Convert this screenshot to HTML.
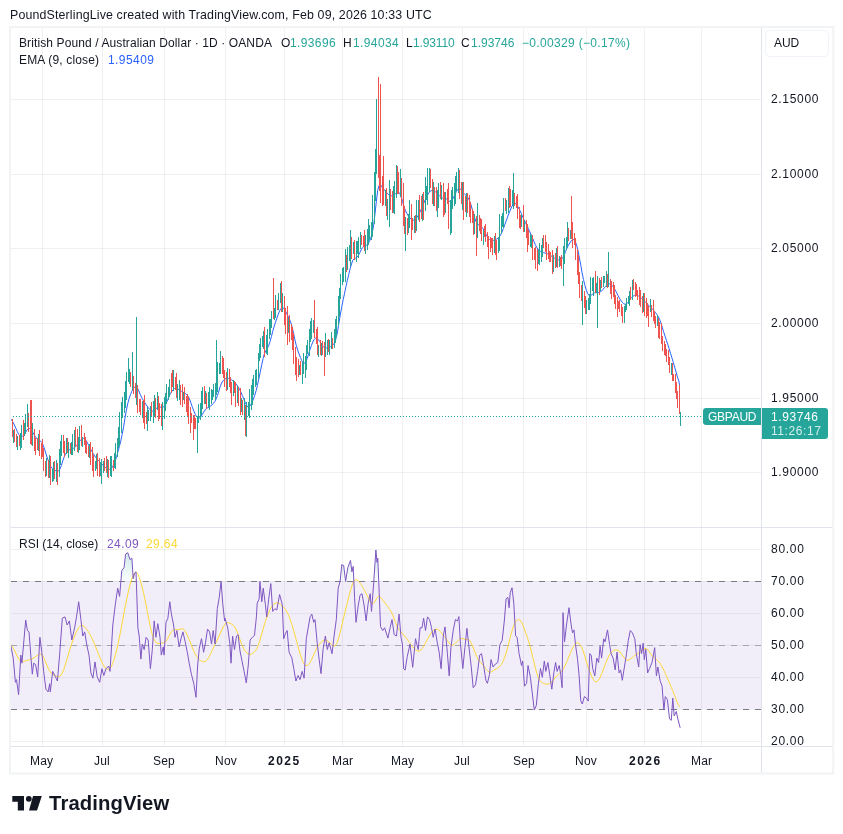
<!DOCTYPE html>
<html><head><meta charset="utf-8"><title>GBPAUD</title>
<style>
html,body{margin:0;padding:0;background:#fff;}
body{width:843px;height:834px;position:relative;overflow:hidden;font-family:"Liberation Sans",sans-serif;color:#131722;font-size:12px;}
svg{position:absolute;left:0;top:0;}
.t{position:absolute;white-space:nowrap;will-change:transform;}
#frame{position:absolute;left:10px;top:27px;width:822px;height:746px;border:1px solid #eceef2;}
#aud{position:absolute;left:765px;top:30px;width:64px;height:27px;border:1px solid #f0f3fa;border-radius:5px;box-sizing:border-box;}
#sym{position:absolute;left:703px;top:408px;width:58px;height:17px;background:#26a69a;border-radius:3px 0 0 3px;}
#px{position:absolute;left:762px;top:408px;width:66px;height:30.5px;background:#26a69a;border-radius:0 3px 3px 0;}
</style></head><body>
<svg width="843" height="834" viewBox="0 0 843 834">
<g shape-rendering="crispEdges"><rect x="42" y="28" width="1" height="718" fill="#2a2e39" fill-opacity="0.07"/><rect x="102" y="28" width="1" height="718" fill="#2a2e39" fill-opacity="0.07"/><rect x="164" y="28" width="1" height="718" fill="#2a2e39" fill-opacity="0.07"/><rect x="225" y="28" width="1" height="718" fill="#2a2e39" fill-opacity="0.07"/><rect x="284" y="28" width="1" height="718" fill="#2a2e39" fill-opacity="0.07"/><rect x="342" y="28" width="1" height="718" fill="#2a2e39" fill-opacity="0.07"/><rect x="402" y="28" width="1" height="718" fill="#2a2e39" fill-opacity="0.07"/><rect x="462" y="28" width="1" height="718" fill="#2a2e39" fill-opacity="0.07"/><rect x="523" y="28" width="1" height="718" fill="#2a2e39" fill-opacity="0.07"/><rect x="586" y="28" width="1" height="718" fill="#2a2e39" fill-opacity="0.07"/><rect x="644" y="28" width="1" height="718" fill="#2a2e39" fill-opacity="0.07"/><rect x="701" y="28" width="1" height="718" fill="#2a2e39" fill-opacity="0.07"/><rect x="11" y="99" width="750" height="1" fill="#2a2e39" fill-opacity="0.07"/><rect x="11" y="174" width="750" height="1" fill="#2a2e39" fill-opacity="0.07"/><rect x="11" y="248" width="750" height="1" fill="#2a2e39" fill-opacity="0.07"/><rect x="11" y="323" width="750" height="1" fill="#2a2e39" fill-opacity="0.07"/><rect x="11" y="398" width="750" height="1" fill="#2a2e39" fill-opacity="0.07"/><rect x="11" y="472" width="750" height="1" fill="#2a2e39" fill-opacity="0.07"/><rect x="11" y="549" width="750" height="1" fill="#2a2e39" fill-opacity="0.07"/><rect x="11" y="581" width="750" height="1" fill="#2a2e39" fill-opacity="0.07"/><rect x="11" y="613" width="750" height="1" fill="#2a2e39" fill-opacity="0.07"/><rect x="11" y="645" width="750" height="1" fill="#2a2e39" fill-opacity="0.07"/><rect x="11" y="677" width="750" height="1" fill="#2a2e39" fill-opacity="0.07"/><rect x="11" y="709" width="750" height="1" fill="#2a2e39" fill-opacity="0.07"/><rect x="11" y="741" width="750" height="1" fill="#2a2e39" fill-opacity="0.07"/></g>
<rect x="11" y="581" width="750" height="128" fill="#7e57c2" fill-opacity="0.1"/>
<defs><linearGradient id="gu" gradientUnits="userSpaceOnUse" x1="0" y1="540" x2="0" y2="581"><stop offset="0" stop-color="#26a69a" stop-opacity="0.32"/><stop offset="1" stop-color="#26a69a" stop-opacity="0.02"/></linearGradient>
<linearGradient id="gd" gradientUnits="userSpaceOnUse" x1="0" y1="709" x2="0" y2="773"><stop offset="0" stop-color="#ef5350" stop-opacity="0"/><stop offset="1" stop-color="#ef5350" stop-opacity="0.3"/></linearGradient></defs>
<path d="M10.5,581 L10.5,581.0 L11.0,581.0 L11.5,581.0 L12.0,581.0 L12.5,581.0 L13.0,581.0 L13.5,581.0 L14.0,581.0 L14.5,581.0 L15.0,581.0 L15.5,581.0 L16.0,581.0 L16.5,581.0 L17.0,581.0 L17.5,581.0 L18.0,581.0 L18.5,581.0 L19.0,581.0 L19.5,581.0 L20.0,581.0 L20.5,581.0 L21.0,581.0 L21.5,581.0 L22.0,581.0 L22.5,581.0 L23.0,581.0 L23.5,581.0 L24.0,581.0 L24.5,581.0 L25.0,581.0 L25.5,581.0 L26.0,581.0 L26.5,581.0 L27.0,581.0 L27.5,581.0 L28.0,581.0 L28.5,581.0 L29.0,581.0 L29.5,581.0 L30.0,581.0 L30.5,581.0 L31.0,581.0 L31.5,581.0 L32.0,581.0 L32.5,581.0 L33.0,581.0 L33.5,581.0 L34.0,581.0 L34.5,581.0 L35.0,581.0 L35.5,581.0 L36.0,581.0 L36.5,581.0 L37.0,581.0 L37.5,581.0 L38.0,581.0 L38.5,581.0 L39.0,581.0 L39.5,581.0 L40.0,581.0 L40.5,581.0 L41.0,581.0 L41.5,581.0 L42.0,581.0 L42.5,581.0 L43.0,581.0 L43.5,581.0 L44.0,581.0 L44.5,581.0 L45.0,581.0 L45.5,581.0 L46.0,581.0 L46.5,581.0 L47.0,581.0 L47.5,581.0 L48.0,581.0 L48.5,581.0 L49.0,581.0 L49.5,581.0 L50.0,581.0 L50.5,581.0 L51.0,581.0 L51.5,581.0 L52.0,581.0 L52.5,581.0 L53.0,581.0 L53.5,581.0 L54.0,581.0 L54.5,581.0 L55.0,581.0 L55.5,581.0 L56.0,581.0 L56.5,581.0 L57.0,581.0 L57.5,581.0 L58.0,581.0 L58.5,581.0 L59.0,581.0 L59.5,581.0 L60.0,581.0 L60.5,581.0 L61.0,581.0 L61.5,581.0 L62.0,581.0 L62.5,581.0 L63.0,581.0 L63.5,581.0 L64.0,581.0 L64.5,581.0 L65.0,581.0 L65.5,581.0 L66.0,581.0 L66.5,581.0 L67.0,581.0 L67.5,581.0 L68.0,581.0 L68.5,581.0 L69.0,581.0 L69.5,581.0 L70.0,581.0 L70.5,581.0 L71.0,581.0 L71.5,581.0 L72.0,581.0 L72.5,581.0 L73.0,581.0 L73.5,581.0 L74.0,581.0 L74.5,581.0 L75.0,581.0 L75.5,581.0 L76.0,581.0 L76.5,581.0 L77.0,581.0 L77.5,581.0 L78.0,581.0 L78.5,581.0 L79.0,581.0 L79.5,581.0 L80.0,581.0 L80.5,581.0 L81.0,581.0 L81.5,581.0 L82.0,581.0 L82.5,581.0 L83.0,581.0 L83.5,581.0 L84.0,581.0 L84.5,581.0 L85.0,581.0 L85.5,581.0 L86.0,581.0 L86.5,581.0 L87.0,581.0 L87.5,581.0 L88.0,581.0 L88.5,581.0 L89.0,581.0 L89.5,581.0 L90.0,581.0 L90.5,581.0 L91.0,581.0 L91.5,581.0 L92.0,581.0 L92.5,581.0 L93.0,581.0 L93.5,581.0 L94.0,581.0 L94.5,581.0 L95.0,581.0 L95.5,581.0 L96.0,581.0 L96.5,581.0 L97.0,581.0 L97.5,581.0 L98.0,581.0 L98.5,581.0 L99.0,581.0 L99.5,581.0 L100.0,581.0 L100.5,581.0 L101.0,581.0 L101.5,581.0 L102.0,581.0 L102.5,581.0 L103.0,581.0 L103.5,581.0 L104.0,581.0 L104.5,581.0 L105.0,581.0 L105.5,581.0 L106.0,581.0 L106.5,581.0 L107.0,581.0 L107.5,581.0 L108.0,581.0 L108.5,581.0 L109.0,581.0 L109.5,581.0 L110.0,581.0 L110.5,581.0 L111.0,581.0 L111.5,581.0 L112.0,581.0 L112.5,581.0 L113.0,581.0 L113.5,581.0 L114.0,581.0 L114.5,581.0 L115.0,581.0 L115.5,581.0 L116.0,581.0 L116.5,581.0 L117.0,581.0 L117.5,581.0 L118.0,581.0 L118.5,581.0 L119.0,581.0 L119.5,581.0 L120.0,581.0 L120.5,581.0 L121.0,580.2 L121.5,574.3 L122.0,570.2 L122.5,569.6 L123.0,569.0 L123.5,568.4 L124.0,567.7 L124.5,563.6 L125.0,559.5 L125.5,555.3 L126.0,553.9 L126.5,553.6 L127.0,553.3 L127.5,552.9 L128.0,553.3 L128.5,554.8 L129.0,556.4 L129.5,558.0 L130.0,559.5 L130.5,559.2 L131.0,558.8 L131.5,558.5 L132.0,559.4 L132.5,566.9 L133.0,574.4 L133.5,577.8 L134.0,575.8 L134.5,573.8 L135.0,572.8 L135.5,572.3 L136.0,571.8 L136.5,581.0 L137.0,581.0 L137.5,581.0 L138.0,581.0 L138.5,581.0 L139.0,581.0 L139.5,581.0 L140.0,581.0 L140.5,581.0 L141.0,581.0 L141.5,581.0 L142.0,581.0 L142.5,581.0 L143.0,581.0 L143.5,581.0 L144.0,581.0 L144.5,581.0 L145.0,581.0 L145.5,581.0 L146.0,581.0 L146.5,581.0 L147.0,581.0 L147.5,581.0 L148.0,581.0 L148.5,581.0 L149.0,581.0 L149.5,581.0 L150.0,581.0 L150.5,581.0 L151.0,581.0 L151.5,581.0 L152.0,581.0 L152.5,581.0 L153.0,581.0 L153.5,581.0 L154.0,581.0 L154.5,581.0 L155.0,581.0 L155.5,581.0 L156.0,581.0 L156.5,581.0 L157.0,581.0 L157.5,581.0 L158.0,581.0 L158.5,581.0 L159.0,581.0 L159.5,581.0 L160.0,581.0 L160.5,581.0 L161.0,581.0 L161.5,581.0 L162.0,581.0 L162.5,581.0 L163.0,581.0 L163.5,581.0 L164.0,581.0 L164.5,581.0 L165.0,581.0 L165.5,581.0 L166.0,581.0 L166.5,581.0 L167.0,581.0 L167.5,581.0 L168.0,581.0 L168.5,581.0 L169.0,581.0 L169.5,581.0 L170.0,581.0 L170.5,581.0 L171.0,581.0 L171.5,581.0 L172.0,581.0 L172.5,581.0 L173.0,581.0 L173.5,581.0 L174.0,581.0 L174.5,581.0 L175.0,581.0 L175.5,581.0 L176.0,581.0 L176.5,581.0 L177.0,581.0 L177.5,581.0 L178.0,581.0 L178.5,581.0 L179.0,581.0 L179.5,581.0 L180.0,581.0 L180.5,581.0 L181.0,581.0 L181.5,581.0 L182.0,581.0 L182.5,581.0 L183.0,581.0 L183.5,581.0 L184.0,581.0 L184.5,581.0 L185.0,581.0 L185.5,581.0 L186.0,581.0 L186.5,581.0 L187.0,581.0 L187.5,581.0 L188.0,581.0 L188.5,581.0 L189.0,581.0 L189.5,581.0 L190.0,581.0 L190.5,581.0 L191.0,581.0 L191.5,581.0 L192.0,581.0 L192.5,581.0 L193.0,581.0 L193.5,581.0 L194.0,581.0 L194.5,581.0 L195.0,581.0 L195.5,581.0 L196.0,581.0 L196.5,581.0 L197.0,581.0 L197.5,581.0 L198.0,581.0 L198.5,581.0 L199.0,581.0 L199.5,581.0 L200.0,581.0 L200.5,581.0 L201.0,581.0 L201.5,581.0 L202.0,581.0 L202.5,581.0 L203.0,581.0 L203.5,581.0 L204.0,581.0 L204.5,581.0 L205.0,581.0 L205.5,581.0 L206.0,581.0 L206.5,581.0 L207.0,581.0 L207.5,581.0 L208.0,581.0 L208.5,581.0 L209.0,581.0 L209.5,581.0 L210.0,581.0 L210.5,581.0 L211.0,581.0 L211.5,581.0 L212.0,581.0 L212.5,581.0 L213.0,581.0 L213.5,581.0 L214.0,581.0 L214.5,581.0 L215.0,581.0 L215.5,581.0 L216.0,581.0 L216.5,581.0 L217.0,581.0 L217.5,581.0 L218.0,581.0 L218.5,581.0 L219.0,581.0 L219.5,581.0 L220.0,581.0 L220.5,581.0 L221.0,581.0 L221.5,581.0 L222.0,581.0 L222.5,581.0 L223.0,581.0 L223.5,581.0 L224.0,581.0 L224.5,581.0 L225.0,581.0 L225.5,581.0 L226.0,581.0 L226.5,581.0 L227.0,581.0 L227.5,581.0 L228.0,581.0 L228.5,581.0 L229.0,581.0 L229.5,581.0 L230.0,581.0 L230.5,581.0 L231.0,581.0 L231.5,581.0 L232.0,581.0 L232.5,581.0 L233.0,581.0 L233.5,581.0 L234.0,581.0 L234.5,581.0 L235.0,581.0 L235.5,581.0 L236.0,581.0 L236.5,581.0 L237.0,581.0 L237.5,581.0 L238.0,581.0 L238.5,581.0 L239.0,581.0 L239.5,581.0 L240.0,581.0 L240.5,581.0 L241.0,581.0 L241.5,581.0 L242.0,581.0 L242.5,581.0 L243.0,581.0 L243.5,581.0 L244.0,581.0 L244.5,581.0 L245.0,581.0 L245.5,581.0 L246.0,581.0 L246.5,581.0 L247.0,581.0 L247.5,581.0 L248.0,581.0 L248.5,581.0 L249.0,581.0 L249.5,581.0 L250.0,581.0 L250.5,581.0 L251.0,581.0 L251.5,581.0 L252.0,581.0 L252.5,581.0 L253.0,581.0 L253.5,581.0 L254.0,581.0 L254.5,581.0 L255.0,581.0 L255.5,581.0 L256.0,581.0 L256.5,581.0 L257.0,581.0 L257.5,581.0 L258.0,581.0 L258.5,581.0 L259.0,581.0 L259.5,581.0 L260.0,581.0 L260.5,581.0 L261.0,581.0 L261.5,581.0 L262.0,581.0 L262.5,581.0 L263.0,581.0 L263.5,581.0 L264.0,581.0 L264.5,581.0 L265.0,581.0 L265.5,581.0 L266.0,581.0 L266.5,581.0 L267.0,581.0 L267.5,581.0 L268.0,581.0 L268.5,581.0 L269.0,581.0 L269.5,581.0 L270.0,581.0 L270.5,581.0 L271.0,581.0 L271.5,581.0 L272.0,581.0 L272.5,581.0 L273.0,581.0 L273.5,581.0 L274.0,581.0 L274.5,581.0 L275.0,581.0 L275.5,581.0 L276.0,581.0 L276.5,581.0 L277.0,581.0 L277.5,581.0 L278.0,581.0 L278.5,581.0 L279.0,581.0 L279.5,581.0 L280.0,581.0 L280.5,581.0 L281.0,581.0 L281.5,581.0 L282.0,581.0 L282.5,581.0 L283.0,581.0 L283.5,581.0 L284.0,581.0 L284.5,581.0 L285.0,581.0 L285.5,581.0 L286.0,581.0 L286.5,581.0 L287.0,581.0 L287.5,581.0 L288.0,581.0 L288.5,581.0 L289.0,581.0 L289.5,581.0 L290.0,581.0 L290.5,581.0 L291.0,581.0 L291.5,581.0 L292.0,581.0 L292.5,581.0 L293.0,581.0 L293.5,581.0 L294.0,581.0 L294.5,581.0 L295.0,581.0 L295.5,581.0 L296.0,581.0 L296.5,581.0 L297.0,581.0 L297.5,581.0 L298.0,581.0 L298.5,581.0 L299.0,581.0 L299.5,581.0 L300.0,581.0 L300.5,581.0 L301.0,581.0 L301.5,581.0 L302.0,581.0 L302.5,581.0 L303.0,581.0 L303.5,581.0 L304.0,581.0 L304.5,581.0 L305.0,581.0 L305.5,581.0 L306.0,581.0 L306.5,581.0 L307.0,581.0 L307.5,581.0 L308.0,581.0 L308.5,581.0 L309.0,581.0 L309.5,581.0 L310.0,581.0 L310.5,581.0 L311.0,581.0 L311.5,581.0 L312.0,581.0 L312.5,581.0 L313.0,581.0 L313.5,581.0 L314.0,581.0 L314.5,581.0 L315.0,581.0 L315.5,581.0 L316.0,581.0 L316.5,581.0 L317.0,581.0 L317.5,581.0 L318.0,581.0 L318.5,581.0 L319.0,581.0 L319.5,581.0 L320.0,581.0 L320.5,581.0 L321.0,581.0 L321.5,581.0 L322.0,581.0 L322.5,581.0 L323.0,581.0 L323.5,581.0 L324.0,581.0 L324.5,581.0 L325.0,581.0 L325.5,581.0 L326.0,581.0 L326.5,581.0 L327.0,581.0 L327.5,581.0 L328.0,581.0 L328.5,581.0 L329.0,581.0 L329.5,581.0 L330.0,581.0 L330.5,581.0 L331.0,581.0 L331.5,581.0 L332.0,581.0 L332.5,581.0 L333.0,581.0 L333.5,581.0 L334.0,581.0 L334.5,581.0 L335.0,581.0 L335.5,581.0 L336.0,581.0 L336.5,581.0 L337.0,581.0 L337.5,581.0 L338.0,581.0 L338.5,581.0 L339.0,581.0 L339.5,581.0 L340.0,581.0 L340.5,578.1 L341.0,573.0 L341.5,567.8 L342.0,564.6 L342.5,564.9 L343.0,565.1 L343.5,565.4 L344.0,567.8 L344.5,571.9 L345.0,576.1 L345.5,580.2 L346.0,579.2 L346.5,576.0 L347.0,572.9 L347.5,569.8 L348.0,567.3 L348.5,565.9 L349.0,564.6 L349.5,563.2 L350.0,561.9 L350.5,560.5 L351.0,564.1 L351.5,568.3 L352.0,571.5 L352.5,569.5 L353.0,567.5 L353.5,571.4 L354.0,581.0 L354.5,581.0 L355.0,581.0 L355.5,581.0 L356.0,581.0 L356.5,581.0 L357.0,581.0 L357.5,581.0 L358.0,581.0 L358.5,581.0 L359.0,581.0 L359.5,581.0 L360.0,581.0 L360.5,581.0 L361.0,581.0 L361.5,581.0 L362.0,581.0 L362.5,581.0 L363.0,581.0 L363.5,581.0 L364.0,581.0 L364.5,581.0 L365.0,581.0 L365.5,581.0 L366.0,581.0 L366.5,581.0 L367.0,581.0 L367.5,581.0 L368.0,581.0 L368.5,581.0 L369.0,581.0 L369.5,581.0 L370.0,581.0 L370.5,581.0 L371.0,581.0 L371.5,581.0 L372.0,581.0 L372.5,581.0 L373.0,581.0 L373.5,581.0 L374.0,579.0 L374.5,571.5 L375.0,564.0 L375.5,556.5 L376.0,550.8 L376.5,556.4 L377.0,562.0 L377.5,559.9 L378.0,562.2 L378.5,574.7 L379.0,581.0 L379.5,581.0 L380.0,581.0 L380.5,581.0 L381.0,581.0 L381.5,581.0 L382.0,581.0 L382.5,581.0 L383.0,581.0 L383.5,581.0 L384.0,581.0 L384.5,581.0 L385.0,581.0 L385.5,581.0 L386.0,581.0 L386.5,581.0 L387.0,581.0 L387.5,581.0 L388.0,581.0 L388.5,581.0 L389.0,581.0 L389.5,581.0 L390.0,581.0 L390.5,581.0 L391.0,581.0 L391.5,581.0 L392.0,581.0 L392.5,581.0 L393.0,581.0 L393.5,581.0 L394.0,581.0 L394.5,581.0 L395.0,581.0 L395.5,581.0 L396.0,581.0 L396.5,581.0 L397.0,581.0 L397.5,581.0 L398.0,581.0 L398.5,581.0 L399.0,581.0 L399.5,581.0 L400.0,581.0 L400.5,581.0 L401.0,581.0 L401.5,581.0 L402.0,581.0 L402.5,581.0 L403.0,581.0 L403.5,581.0 L404.0,581.0 L404.5,581.0 L405.0,581.0 L405.5,581.0 L406.0,581.0 L406.5,581.0 L407.0,581.0 L407.5,581.0 L408.0,581.0 L408.5,581.0 L409.0,581.0 L409.5,581.0 L410.0,581.0 L410.5,581.0 L411.0,581.0 L411.5,581.0 L412.0,581.0 L412.5,581.0 L413.0,581.0 L413.5,581.0 L414.0,581.0 L414.5,581.0 L415.0,581.0 L415.5,581.0 L416.0,581.0 L416.5,581.0 L417.0,581.0 L417.5,581.0 L418.0,581.0 L418.5,581.0 L419.0,581.0 L419.5,581.0 L420.0,581.0 L420.5,581.0 L421.0,581.0 L421.5,581.0 L422.0,581.0 L422.5,581.0 L423.0,581.0 L423.5,581.0 L424.0,581.0 L424.5,581.0 L425.0,581.0 L425.5,581.0 L426.0,581.0 L426.5,581.0 L427.0,581.0 L427.5,581.0 L428.0,581.0 L428.5,581.0 L429.0,581.0 L429.5,581.0 L430.0,581.0 L430.5,581.0 L431.0,581.0 L431.5,581.0 L432.0,581.0 L432.5,581.0 L433.0,581.0 L433.5,581.0 L434.0,581.0 L434.5,581.0 L435.0,581.0 L435.5,581.0 L436.0,581.0 L436.5,581.0 L437.0,581.0 L437.5,581.0 L438.0,581.0 L438.5,581.0 L439.0,581.0 L439.5,581.0 L440.0,581.0 L440.5,581.0 L441.0,581.0 L441.5,581.0 L442.0,581.0 L442.5,581.0 L443.0,581.0 L443.5,581.0 L444.0,581.0 L444.5,581.0 L445.0,581.0 L445.5,581.0 L446.0,581.0 L446.5,581.0 L447.0,581.0 L447.5,581.0 L448.0,581.0 L448.5,581.0 L449.0,581.0 L449.5,581.0 L450.0,581.0 L450.5,581.0 L451.0,581.0 L451.5,581.0 L452.0,581.0 L452.5,581.0 L453.0,581.0 L453.5,581.0 L454.0,581.0 L454.5,581.0 L455.0,581.0 L455.5,581.0 L456.0,581.0 L456.5,581.0 L457.0,581.0 L457.5,581.0 L458.0,581.0 L458.5,581.0 L459.0,581.0 L459.5,581.0 L460.0,581.0 L460.5,581.0 L461.0,581.0 L461.5,581.0 L462.0,581.0 L462.5,581.0 L463.0,581.0 L463.5,581.0 L464.0,581.0 L464.5,581.0 L465.0,581.0 L465.5,581.0 L466.0,581.0 L466.5,581.0 L467.0,581.0 L467.5,581.0 L468.0,581.0 L468.5,581.0 L469.0,581.0 L469.5,581.0 L470.0,581.0 L470.5,581.0 L471.0,581.0 L471.5,581.0 L472.0,581.0 L472.5,581.0 L473.0,581.0 L473.5,581.0 L474.0,581.0 L474.5,581.0 L475.0,581.0 L475.5,581.0 L476.0,581.0 L476.5,581.0 L477.0,581.0 L477.5,581.0 L478.0,581.0 L478.5,581.0 L479.0,581.0 L479.5,581.0 L480.0,581.0 L480.5,581.0 L481.0,581.0 L481.5,581.0 L482.0,581.0 L482.5,581.0 L483.0,581.0 L483.5,581.0 L484.0,581.0 L484.5,581.0 L485.0,581.0 L485.5,581.0 L486.0,581.0 L486.5,581.0 L487.0,581.0 L487.5,581.0 L488.0,581.0 L488.5,581.0 L489.0,581.0 L489.5,581.0 L490.0,581.0 L490.5,581.0 L491.0,581.0 L491.5,581.0 L492.0,581.0 L492.5,581.0 L493.0,581.0 L493.5,581.0 L494.0,581.0 L494.5,581.0 L495.0,581.0 L495.5,581.0 L496.0,581.0 L496.5,581.0 L497.0,581.0 L497.5,581.0 L498.0,581.0 L498.5,581.0 L499.0,581.0 L499.5,581.0 L500.0,581.0 L500.5,581.0 L501.0,581.0 L501.5,581.0 L502.0,581.0 L502.5,581.0 L503.0,581.0 L503.5,581.0 L504.0,581.0 L504.5,581.0 L505.0,581.0 L505.5,581.0 L506.0,581.0 L506.5,581.0 L507.0,581.0 L507.5,581.0 L508.0,581.0 L508.5,581.0 L509.0,581.0 L509.5,581.0 L510.0,581.0 L510.5,581.0 L511.0,581.0 L511.5,581.0 L512.0,581.0 L512.5,581.0 L513.0,581.0 L513.5,581.0 L514.0,581.0 L514.5,581.0 L515.0,581.0 L515.5,581.0 L516.0,581.0 L516.5,581.0 L517.0,581.0 L517.5,581.0 L518.0,581.0 L518.5,581.0 L519.0,581.0 L519.5,581.0 L520.0,581.0 L520.5,581.0 L521.0,581.0 L521.5,581.0 L522.0,581.0 L522.5,581.0 L523.0,581.0 L523.5,581.0 L524.0,581.0 L524.5,581.0 L525.0,581.0 L525.5,581.0 L526.0,581.0 L526.5,581.0 L527.0,581.0 L527.5,581.0 L528.0,581.0 L528.5,581.0 L529.0,581.0 L529.5,581.0 L530.0,581.0 L530.5,581.0 L531.0,581.0 L531.5,581.0 L532.0,581.0 L532.5,581.0 L533.0,581.0 L533.5,581.0 L534.0,581.0 L534.5,581.0 L535.0,581.0 L535.5,581.0 L536.0,581.0 L536.5,581.0 L537.0,581.0 L537.5,581.0 L538.0,581.0 L538.5,581.0 L539.0,581.0 L539.5,581.0 L540.0,581.0 L540.5,581.0 L541.0,581.0 L541.5,581.0 L542.0,581.0 L542.5,581.0 L543.0,581.0 L543.5,581.0 L544.0,581.0 L544.5,581.0 L545.0,581.0 L545.5,581.0 L546.0,581.0 L546.5,581.0 L547.0,581.0 L547.5,581.0 L548.0,581.0 L548.5,581.0 L549.0,581.0 L549.5,581.0 L550.0,581.0 L550.5,581.0 L551.0,581.0 L551.5,581.0 L552.0,581.0 L552.5,581.0 L553.0,581.0 L553.5,581.0 L554.0,581.0 L554.5,581.0 L555.0,581.0 L555.5,581.0 L556.0,581.0 L556.5,581.0 L557.0,581.0 L557.5,581.0 L558.0,581.0 L558.5,581.0 L559.0,581.0 L559.5,581.0 L560.0,581.0 L560.5,581.0 L561.0,581.0 L561.5,581.0 L562.0,581.0 L562.5,581.0 L563.0,581.0 L563.5,581.0 L564.0,581.0 L564.5,581.0 L565.0,581.0 L565.5,581.0 L566.0,581.0 L566.5,581.0 L567.0,581.0 L567.5,581.0 L568.0,581.0 L568.5,581.0 L569.0,581.0 L569.5,581.0 L570.0,581.0 L570.5,581.0 L571.0,581.0 L571.5,581.0 L572.0,581.0 L572.5,581.0 L573.0,581.0 L573.5,581.0 L574.0,581.0 L574.5,581.0 L575.0,581.0 L575.5,581.0 L576.0,581.0 L576.5,581.0 L577.0,581.0 L577.5,581.0 L578.0,581.0 L578.5,581.0 L579.0,581.0 L579.5,581.0 L580.0,581.0 L580.5,581.0 L581.0,581.0 L581.5,581.0 L582.0,581.0 L582.5,581.0 L583.0,581.0 L583.5,581.0 L584.0,581.0 L584.5,581.0 L585.0,581.0 L585.5,581.0 L586.0,581.0 L586.5,581.0 L587.0,581.0 L587.5,581.0 L588.0,581.0 L588.5,581.0 L589.0,581.0 L589.5,581.0 L590.0,581.0 L590.5,581.0 L591.0,581.0 L591.5,581.0 L592.0,581.0 L592.5,581.0 L593.0,581.0 L593.5,581.0 L594.0,581.0 L594.5,581.0 L595.0,581.0 L595.5,581.0 L596.0,581.0 L596.5,581.0 L597.0,581.0 L597.5,581.0 L598.0,581.0 L598.5,581.0 L599.0,581.0 L599.5,581.0 L600.0,581.0 L600.5,581.0 L601.0,581.0 L601.5,581.0 L602.0,581.0 L602.5,581.0 L603.0,581.0 L603.5,581.0 L604.0,581.0 L604.5,581.0 L605.0,581.0 L605.5,581.0 L606.0,581.0 L606.5,581.0 L607.0,581.0 L607.5,581.0 L608.0,581.0 L608.5,581.0 L609.0,581.0 L609.5,581.0 L610.0,581.0 L610.5,581.0 L611.0,581.0 L611.5,581.0 L612.0,581.0 L612.5,581.0 L613.0,581.0 L613.5,581.0 L614.0,581.0 L614.5,581.0 L615.0,581.0 L615.5,581.0 L616.0,581.0 L616.5,581.0 L617.0,581.0 L617.5,581.0 L618.0,581.0 L618.5,581.0 L619.0,581.0 L619.5,581.0 L620.0,581.0 L620.5,581.0 L621.0,581.0 L621.5,581.0 L622.0,581.0 L622.5,581.0 L623.0,581.0 L623.5,581.0 L624.0,581.0 L624.5,581.0 L625.0,581.0 L625.5,581.0 L626.0,581.0 L626.5,581.0 L627.0,581.0 L627.5,581.0 L628.0,581.0 L628.5,581.0 L629.0,581.0 L629.5,581.0 L630.0,581.0 L630.5,581.0 L631.0,581.0 L631.5,581.0 L632.0,581.0 L632.5,581.0 L633.0,581.0 L633.5,581.0 L634.0,581.0 L634.5,581.0 L635.0,581.0 L635.5,581.0 L636.0,581.0 L636.5,581.0 L637.0,581.0 L637.5,581.0 L638.0,581.0 L638.5,581.0 L639.0,581.0 L639.5,581.0 L640.0,581.0 L640.5,581.0 L641.0,581.0 L641.5,581.0 L642.0,581.0 L642.5,581.0 L643.0,581.0 L643.5,581.0 L644.0,581.0 L644.5,581.0 L645.0,581.0 L645.5,581.0 L646.0,581.0 L646.5,581.0 L647.0,581.0 L647.5,581.0 L648.0,581.0 L648.5,581.0 L649.0,581.0 L649.5,581.0 L650.0,581.0 L650.5,581.0 L651.0,581.0 L651.5,581.0 L652.0,581.0 L652.5,581.0 L653.0,581.0 L653.5,581.0 L654.0,581.0 L654.5,581.0 L655.0,581.0 L655.5,581.0 L656.0,581.0 L656.5,581.0 L657.0,581.0 L657.5,581.0 L658.0,581.0 L658.5,581.0 L659.0,581.0 L659.5,581.0 L660.0,581.0 L660.5,581.0 L661.0,581.0 L661.5,581.0 L662.0,581.0 L662.5,581.0 L663.0,581.0 L663.5,581.0 L664.0,581.0 L664.5,581.0 L665.0,581.0 L665.5,581.0 L666.0,581.0 L666.5,581.0 L667.0,581.0 L667.5,581.0 L668.0,581.0 L668.5,581.0 L669.0,581.0 L669.5,581.0 L670.0,581.0 L670.5,581.0 L671.0,581.0 L671.5,581.0 L672.0,581.0 L672.5,581.0 L673.0,581.0 L673.5,581.0 L674.0,581.0 L674.5,581.0 L675.0,581.0 L675.5,581.0 L676.0,581.0 L676.5,581.0 L677.0,581.0 L677.5,581.0 L678.0,581.0 L678.5,581.0 L679.0,581.0 L679.5,581.0 L680.0,581.0 L680.0,581 Z" fill="url(#gu)"/>
<path d="M10.5,709 L10.5,709.0 L11.0,709.0 L11.5,709.0 L12.0,709.0 L12.5,709.0 L13.0,709.0 L13.5,709.0 L14.0,709.0 L14.5,709.0 L15.0,709.0 L15.5,709.0 L16.0,709.0 L16.5,709.0 L17.0,709.0 L17.5,709.0 L18.0,709.0 L18.5,709.0 L19.0,709.0 L19.5,709.0 L20.0,709.0 L20.5,709.0 L21.0,709.0 L21.5,709.0 L22.0,709.0 L22.5,709.0 L23.0,709.0 L23.5,709.0 L24.0,709.0 L24.5,709.0 L25.0,709.0 L25.5,709.0 L26.0,709.0 L26.5,709.0 L27.0,709.0 L27.5,709.0 L28.0,709.0 L28.5,709.0 L29.0,709.0 L29.5,709.0 L30.0,709.0 L30.5,709.0 L31.0,709.0 L31.5,709.0 L32.0,709.0 L32.5,709.0 L33.0,709.0 L33.5,709.0 L34.0,709.0 L34.5,709.0 L35.0,709.0 L35.5,709.0 L36.0,709.0 L36.5,709.0 L37.0,709.0 L37.5,709.0 L38.0,709.0 L38.5,709.0 L39.0,709.0 L39.5,709.0 L40.0,709.0 L40.5,709.0 L41.0,709.0 L41.5,709.0 L42.0,709.0 L42.5,709.0 L43.0,709.0 L43.5,709.0 L44.0,709.0 L44.5,709.0 L45.0,709.0 L45.5,709.0 L46.0,709.0 L46.5,709.0 L47.0,709.0 L47.5,709.0 L48.0,709.0 L48.5,709.0 L49.0,709.0 L49.5,709.0 L50.0,709.0 L50.5,709.0 L51.0,709.0 L51.5,709.0 L52.0,709.0 L52.5,709.0 L53.0,709.0 L53.5,709.0 L54.0,709.0 L54.5,709.0 L55.0,709.0 L55.5,709.0 L56.0,709.0 L56.5,709.0 L57.0,709.0 L57.5,709.0 L58.0,709.0 L58.5,709.0 L59.0,709.0 L59.5,709.0 L60.0,709.0 L60.5,709.0 L61.0,709.0 L61.5,709.0 L62.0,709.0 L62.5,709.0 L63.0,709.0 L63.5,709.0 L64.0,709.0 L64.5,709.0 L65.0,709.0 L65.5,709.0 L66.0,709.0 L66.5,709.0 L67.0,709.0 L67.5,709.0 L68.0,709.0 L68.5,709.0 L69.0,709.0 L69.5,709.0 L70.0,709.0 L70.5,709.0 L71.0,709.0 L71.5,709.0 L72.0,709.0 L72.5,709.0 L73.0,709.0 L73.5,709.0 L74.0,709.0 L74.5,709.0 L75.0,709.0 L75.5,709.0 L76.0,709.0 L76.5,709.0 L77.0,709.0 L77.5,709.0 L78.0,709.0 L78.5,709.0 L79.0,709.0 L79.5,709.0 L80.0,709.0 L80.5,709.0 L81.0,709.0 L81.5,709.0 L82.0,709.0 L82.5,709.0 L83.0,709.0 L83.5,709.0 L84.0,709.0 L84.5,709.0 L85.0,709.0 L85.5,709.0 L86.0,709.0 L86.5,709.0 L87.0,709.0 L87.5,709.0 L88.0,709.0 L88.5,709.0 L89.0,709.0 L89.5,709.0 L90.0,709.0 L90.5,709.0 L91.0,709.0 L91.5,709.0 L92.0,709.0 L92.5,709.0 L93.0,709.0 L93.5,709.0 L94.0,709.0 L94.5,709.0 L95.0,709.0 L95.5,709.0 L96.0,709.0 L96.5,709.0 L97.0,709.0 L97.5,709.0 L98.0,709.0 L98.5,709.0 L99.0,709.0 L99.5,709.0 L100.0,709.0 L100.5,709.0 L101.0,709.0 L101.5,709.0 L102.0,709.0 L102.5,709.0 L103.0,709.0 L103.5,709.0 L104.0,709.0 L104.5,709.0 L105.0,709.0 L105.5,709.0 L106.0,709.0 L106.5,709.0 L107.0,709.0 L107.5,709.0 L108.0,709.0 L108.5,709.0 L109.0,709.0 L109.5,709.0 L110.0,709.0 L110.5,709.0 L111.0,709.0 L111.5,709.0 L112.0,709.0 L112.5,709.0 L113.0,709.0 L113.5,709.0 L114.0,709.0 L114.5,709.0 L115.0,709.0 L115.5,709.0 L116.0,709.0 L116.5,709.0 L117.0,709.0 L117.5,709.0 L118.0,709.0 L118.5,709.0 L119.0,709.0 L119.5,709.0 L120.0,709.0 L120.5,709.0 L121.0,709.0 L121.5,709.0 L122.0,709.0 L122.5,709.0 L123.0,709.0 L123.5,709.0 L124.0,709.0 L124.5,709.0 L125.0,709.0 L125.5,709.0 L126.0,709.0 L126.5,709.0 L127.0,709.0 L127.5,709.0 L128.0,709.0 L128.5,709.0 L129.0,709.0 L129.5,709.0 L130.0,709.0 L130.5,709.0 L131.0,709.0 L131.5,709.0 L132.0,709.0 L132.5,709.0 L133.0,709.0 L133.5,709.0 L134.0,709.0 L134.5,709.0 L135.0,709.0 L135.5,709.0 L136.0,709.0 L136.5,709.0 L137.0,709.0 L137.5,709.0 L138.0,709.0 L138.5,709.0 L139.0,709.0 L139.5,709.0 L140.0,709.0 L140.5,709.0 L141.0,709.0 L141.5,709.0 L142.0,709.0 L142.5,709.0 L143.0,709.0 L143.5,709.0 L144.0,709.0 L144.5,709.0 L145.0,709.0 L145.5,709.0 L146.0,709.0 L146.5,709.0 L147.0,709.0 L147.5,709.0 L148.0,709.0 L148.5,709.0 L149.0,709.0 L149.5,709.0 L150.0,709.0 L150.5,709.0 L151.0,709.0 L151.5,709.0 L152.0,709.0 L152.5,709.0 L153.0,709.0 L153.5,709.0 L154.0,709.0 L154.5,709.0 L155.0,709.0 L155.5,709.0 L156.0,709.0 L156.5,709.0 L157.0,709.0 L157.5,709.0 L158.0,709.0 L158.5,709.0 L159.0,709.0 L159.5,709.0 L160.0,709.0 L160.5,709.0 L161.0,709.0 L161.5,709.0 L162.0,709.0 L162.5,709.0 L163.0,709.0 L163.5,709.0 L164.0,709.0 L164.5,709.0 L165.0,709.0 L165.5,709.0 L166.0,709.0 L166.5,709.0 L167.0,709.0 L167.5,709.0 L168.0,709.0 L168.5,709.0 L169.0,709.0 L169.5,709.0 L170.0,709.0 L170.5,709.0 L171.0,709.0 L171.5,709.0 L172.0,709.0 L172.5,709.0 L173.0,709.0 L173.5,709.0 L174.0,709.0 L174.5,709.0 L175.0,709.0 L175.5,709.0 L176.0,709.0 L176.5,709.0 L177.0,709.0 L177.5,709.0 L178.0,709.0 L178.5,709.0 L179.0,709.0 L179.5,709.0 L180.0,709.0 L180.5,709.0 L181.0,709.0 L181.5,709.0 L182.0,709.0 L182.5,709.0 L183.0,709.0 L183.5,709.0 L184.0,709.0 L184.5,709.0 L185.0,709.0 L185.5,709.0 L186.0,709.0 L186.5,709.0 L187.0,709.0 L187.5,709.0 L188.0,709.0 L188.5,709.0 L189.0,709.0 L189.5,709.0 L190.0,709.0 L190.5,709.0 L191.0,709.0 L191.5,709.0 L192.0,709.0 L192.5,709.0 L193.0,709.0 L193.5,709.0 L194.0,709.0 L194.5,709.0 L195.0,709.0 L195.5,709.0 L196.0,709.0 L196.5,709.0 L197.0,709.0 L197.5,709.0 L198.0,709.0 L198.5,709.0 L199.0,709.0 L199.5,709.0 L200.0,709.0 L200.5,709.0 L201.0,709.0 L201.5,709.0 L202.0,709.0 L202.5,709.0 L203.0,709.0 L203.5,709.0 L204.0,709.0 L204.5,709.0 L205.0,709.0 L205.5,709.0 L206.0,709.0 L206.5,709.0 L207.0,709.0 L207.5,709.0 L208.0,709.0 L208.5,709.0 L209.0,709.0 L209.5,709.0 L210.0,709.0 L210.5,709.0 L211.0,709.0 L211.5,709.0 L212.0,709.0 L212.5,709.0 L213.0,709.0 L213.5,709.0 L214.0,709.0 L214.5,709.0 L215.0,709.0 L215.5,709.0 L216.0,709.0 L216.5,709.0 L217.0,709.0 L217.5,709.0 L218.0,709.0 L218.5,709.0 L219.0,709.0 L219.5,709.0 L220.0,709.0 L220.5,709.0 L221.0,709.0 L221.5,709.0 L222.0,709.0 L222.5,709.0 L223.0,709.0 L223.5,709.0 L224.0,709.0 L224.5,709.0 L225.0,709.0 L225.5,709.0 L226.0,709.0 L226.5,709.0 L227.0,709.0 L227.5,709.0 L228.0,709.0 L228.5,709.0 L229.0,709.0 L229.5,709.0 L230.0,709.0 L230.5,709.0 L231.0,709.0 L231.5,709.0 L232.0,709.0 L232.5,709.0 L233.0,709.0 L233.5,709.0 L234.0,709.0 L234.5,709.0 L235.0,709.0 L235.5,709.0 L236.0,709.0 L236.5,709.0 L237.0,709.0 L237.5,709.0 L238.0,709.0 L238.5,709.0 L239.0,709.0 L239.5,709.0 L240.0,709.0 L240.5,709.0 L241.0,709.0 L241.5,709.0 L242.0,709.0 L242.5,709.0 L243.0,709.0 L243.5,709.0 L244.0,709.0 L244.5,709.0 L245.0,709.0 L245.5,709.0 L246.0,709.0 L246.5,709.0 L247.0,709.0 L247.5,709.0 L248.0,709.0 L248.5,709.0 L249.0,709.0 L249.5,709.0 L250.0,709.0 L250.5,709.0 L251.0,709.0 L251.5,709.0 L252.0,709.0 L252.5,709.0 L253.0,709.0 L253.5,709.0 L254.0,709.0 L254.5,709.0 L255.0,709.0 L255.5,709.0 L256.0,709.0 L256.5,709.0 L257.0,709.0 L257.5,709.0 L258.0,709.0 L258.5,709.0 L259.0,709.0 L259.5,709.0 L260.0,709.0 L260.5,709.0 L261.0,709.0 L261.5,709.0 L262.0,709.0 L262.5,709.0 L263.0,709.0 L263.5,709.0 L264.0,709.0 L264.5,709.0 L265.0,709.0 L265.5,709.0 L266.0,709.0 L266.5,709.0 L267.0,709.0 L267.5,709.0 L268.0,709.0 L268.5,709.0 L269.0,709.0 L269.5,709.0 L270.0,709.0 L270.5,709.0 L271.0,709.0 L271.5,709.0 L272.0,709.0 L272.5,709.0 L273.0,709.0 L273.5,709.0 L274.0,709.0 L274.5,709.0 L275.0,709.0 L275.5,709.0 L276.0,709.0 L276.5,709.0 L277.0,709.0 L277.5,709.0 L278.0,709.0 L278.5,709.0 L279.0,709.0 L279.5,709.0 L280.0,709.0 L280.5,709.0 L281.0,709.0 L281.5,709.0 L282.0,709.0 L282.5,709.0 L283.0,709.0 L283.5,709.0 L284.0,709.0 L284.5,709.0 L285.0,709.0 L285.5,709.0 L286.0,709.0 L286.5,709.0 L287.0,709.0 L287.5,709.0 L288.0,709.0 L288.5,709.0 L289.0,709.0 L289.5,709.0 L290.0,709.0 L290.5,709.0 L291.0,709.0 L291.5,709.0 L292.0,709.0 L292.5,709.0 L293.0,709.0 L293.5,709.0 L294.0,709.0 L294.5,709.0 L295.0,709.0 L295.5,709.0 L296.0,709.0 L296.5,709.0 L297.0,709.0 L297.5,709.0 L298.0,709.0 L298.5,709.0 L299.0,709.0 L299.5,709.0 L300.0,709.0 L300.5,709.0 L301.0,709.0 L301.5,709.0 L302.0,709.0 L302.5,709.0 L303.0,709.0 L303.5,709.0 L304.0,709.0 L304.5,709.0 L305.0,709.0 L305.5,709.0 L306.0,709.0 L306.5,709.0 L307.0,709.0 L307.5,709.0 L308.0,709.0 L308.5,709.0 L309.0,709.0 L309.5,709.0 L310.0,709.0 L310.5,709.0 L311.0,709.0 L311.5,709.0 L312.0,709.0 L312.5,709.0 L313.0,709.0 L313.5,709.0 L314.0,709.0 L314.5,709.0 L315.0,709.0 L315.5,709.0 L316.0,709.0 L316.5,709.0 L317.0,709.0 L317.5,709.0 L318.0,709.0 L318.5,709.0 L319.0,709.0 L319.5,709.0 L320.0,709.0 L320.5,709.0 L321.0,709.0 L321.5,709.0 L322.0,709.0 L322.5,709.0 L323.0,709.0 L323.5,709.0 L324.0,709.0 L324.5,709.0 L325.0,709.0 L325.5,709.0 L326.0,709.0 L326.5,709.0 L327.0,709.0 L327.5,709.0 L328.0,709.0 L328.5,709.0 L329.0,709.0 L329.5,709.0 L330.0,709.0 L330.5,709.0 L331.0,709.0 L331.5,709.0 L332.0,709.0 L332.5,709.0 L333.0,709.0 L333.5,709.0 L334.0,709.0 L334.5,709.0 L335.0,709.0 L335.5,709.0 L336.0,709.0 L336.5,709.0 L337.0,709.0 L337.5,709.0 L338.0,709.0 L338.5,709.0 L339.0,709.0 L339.5,709.0 L340.0,709.0 L340.5,709.0 L341.0,709.0 L341.5,709.0 L342.0,709.0 L342.5,709.0 L343.0,709.0 L343.5,709.0 L344.0,709.0 L344.5,709.0 L345.0,709.0 L345.5,709.0 L346.0,709.0 L346.5,709.0 L347.0,709.0 L347.5,709.0 L348.0,709.0 L348.5,709.0 L349.0,709.0 L349.5,709.0 L350.0,709.0 L350.5,709.0 L351.0,709.0 L351.5,709.0 L352.0,709.0 L352.5,709.0 L353.0,709.0 L353.5,709.0 L354.0,709.0 L354.5,709.0 L355.0,709.0 L355.5,709.0 L356.0,709.0 L356.5,709.0 L357.0,709.0 L357.5,709.0 L358.0,709.0 L358.5,709.0 L359.0,709.0 L359.5,709.0 L360.0,709.0 L360.5,709.0 L361.0,709.0 L361.5,709.0 L362.0,709.0 L362.5,709.0 L363.0,709.0 L363.5,709.0 L364.0,709.0 L364.5,709.0 L365.0,709.0 L365.5,709.0 L366.0,709.0 L366.5,709.0 L367.0,709.0 L367.5,709.0 L368.0,709.0 L368.5,709.0 L369.0,709.0 L369.5,709.0 L370.0,709.0 L370.5,709.0 L371.0,709.0 L371.5,709.0 L372.0,709.0 L372.5,709.0 L373.0,709.0 L373.5,709.0 L374.0,709.0 L374.5,709.0 L375.0,709.0 L375.5,709.0 L376.0,709.0 L376.5,709.0 L377.0,709.0 L377.5,709.0 L378.0,709.0 L378.5,709.0 L379.0,709.0 L379.5,709.0 L380.0,709.0 L380.5,709.0 L381.0,709.0 L381.5,709.0 L382.0,709.0 L382.5,709.0 L383.0,709.0 L383.5,709.0 L384.0,709.0 L384.5,709.0 L385.0,709.0 L385.5,709.0 L386.0,709.0 L386.5,709.0 L387.0,709.0 L387.5,709.0 L388.0,709.0 L388.5,709.0 L389.0,709.0 L389.5,709.0 L390.0,709.0 L390.5,709.0 L391.0,709.0 L391.5,709.0 L392.0,709.0 L392.5,709.0 L393.0,709.0 L393.5,709.0 L394.0,709.0 L394.5,709.0 L395.0,709.0 L395.5,709.0 L396.0,709.0 L396.5,709.0 L397.0,709.0 L397.5,709.0 L398.0,709.0 L398.5,709.0 L399.0,709.0 L399.5,709.0 L400.0,709.0 L400.5,709.0 L401.0,709.0 L401.5,709.0 L402.0,709.0 L402.5,709.0 L403.0,709.0 L403.5,709.0 L404.0,709.0 L404.5,709.0 L405.0,709.0 L405.5,709.0 L406.0,709.0 L406.5,709.0 L407.0,709.0 L407.5,709.0 L408.0,709.0 L408.5,709.0 L409.0,709.0 L409.5,709.0 L410.0,709.0 L410.5,709.0 L411.0,709.0 L411.5,709.0 L412.0,709.0 L412.5,709.0 L413.0,709.0 L413.5,709.0 L414.0,709.0 L414.5,709.0 L415.0,709.0 L415.5,709.0 L416.0,709.0 L416.5,709.0 L417.0,709.0 L417.5,709.0 L418.0,709.0 L418.5,709.0 L419.0,709.0 L419.5,709.0 L420.0,709.0 L420.5,709.0 L421.0,709.0 L421.5,709.0 L422.0,709.0 L422.5,709.0 L423.0,709.0 L423.5,709.0 L424.0,709.0 L424.5,709.0 L425.0,709.0 L425.5,709.0 L426.0,709.0 L426.5,709.0 L427.0,709.0 L427.5,709.0 L428.0,709.0 L428.5,709.0 L429.0,709.0 L429.5,709.0 L430.0,709.0 L430.5,709.0 L431.0,709.0 L431.5,709.0 L432.0,709.0 L432.5,709.0 L433.0,709.0 L433.5,709.0 L434.0,709.0 L434.5,709.0 L435.0,709.0 L435.5,709.0 L436.0,709.0 L436.5,709.0 L437.0,709.0 L437.5,709.0 L438.0,709.0 L438.5,709.0 L439.0,709.0 L439.5,709.0 L440.0,709.0 L440.5,709.0 L441.0,709.0 L441.5,709.0 L442.0,709.0 L442.5,709.0 L443.0,709.0 L443.5,709.0 L444.0,709.0 L444.5,709.0 L445.0,709.0 L445.5,709.0 L446.0,709.0 L446.5,709.0 L447.0,709.0 L447.5,709.0 L448.0,709.0 L448.5,709.0 L449.0,709.0 L449.5,709.0 L450.0,709.0 L450.5,709.0 L451.0,709.0 L451.5,709.0 L452.0,709.0 L452.5,709.0 L453.0,709.0 L453.5,709.0 L454.0,709.0 L454.5,709.0 L455.0,709.0 L455.5,709.0 L456.0,709.0 L456.5,709.0 L457.0,709.0 L457.5,709.0 L458.0,709.0 L458.5,709.0 L459.0,709.0 L459.5,709.0 L460.0,709.0 L460.5,709.0 L461.0,709.0 L461.5,709.0 L462.0,709.0 L462.5,709.0 L463.0,709.0 L463.5,709.0 L464.0,709.0 L464.5,709.0 L465.0,709.0 L465.5,709.0 L466.0,709.0 L466.5,709.0 L467.0,709.0 L467.5,709.0 L468.0,709.0 L468.5,709.0 L469.0,709.0 L469.5,709.0 L470.0,709.0 L470.5,709.0 L471.0,709.0 L471.5,709.0 L472.0,709.0 L472.5,709.0 L473.0,709.0 L473.5,709.0 L474.0,709.0 L474.5,709.0 L475.0,709.0 L475.5,709.0 L476.0,709.0 L476.5,709.0 L477.0,709.0 L477.5,709.0 L478.0,709.0 L478.5,709.0 L479.0,709.0 L479.5,709.0 L480.0,709.0 L480.5,709.0 L481.0,709.0 L481.5,709.0 L482.0,709.0 L482.5,709.0 L483.0,709.0 L483.5,709.0 L484.0,709.0 L484.5,709.0 L485.0,709.0 L485.5,709.0 L486.0,709.0 L486.5,709.0 L487.0,709.0 L487.5,709.0 L488.0,709.0 L488.5,709.0 L489.0,709.0 L489.5,709.0 L490.0,709.0 L490.5,709.0 L491.0,709.0 L491.5,709.0 L492.0,709.0 L492.5,709.0 L493.0,709.0 L493.5,709.0 L494.0,709.0 L494.5,709.0 L495.0,709.0 L495.5,709.0 L496.0,709.0 L496.5,709.0 L497.0,709.0 L497.5,709.0 L498.0,709.0 L498.5,709.0 L499.0,709.0 L499.5,709.0 L500.0,709.0 L500.5,709.0 L501.0,709.0 L501.5,709.0 L502.0,709.0 L502.5,709.0 L503.0,709.0 L503.5,709.0 L504.0,709.0 L504.5,709.0 L505.0,709.0 L505.5,709.0 L506.0,709.0 L506.5,709.0 L507.0,709.0 L507.5,709.0 L508.0,709.0 L508.5,709.0 L509.0,709.0 L509.5,709.0 L510.0,709.0 L510.5,709.0 L511.0,709.0 L511.5,709.0 L512.0,709.0 L512.5,709.0 L513.0,709.0 L513.5,709.0 L514.0,709.0 L514.5,709.0 L515.0,709.0 L515.5,709.0 L516.0,709.0 L516.5,709.0 L517.0,709.0 L517.5,709.0 L518.0,709.0 L518.5,709.0 L519.0,709.0 L519.5,709.0 L520.0,709.0 L520.5,709.0 L521.0,709.0 L521.5,709.0 L522.0,709.0 L522.5,709.0 L523.0,709.0 L523.5,709.0 L524.0,709.0 L524.5,709.0 L525.0,709.0 L525.5,709.0 L526.0,709.0 L526.5,709.0 L527.0,709.0 L527.5,709.0 L528.0,709.0 L528.5,709.0 L529.0,709.0 L529.5,709.0 L530.0,709.0 L530.5,709.0 L531.0,709.0 L531.5,709.0 L532.0,709.0 L532.5,709.0 L533.0,709.0 L533.5,709.0 L534.0,709.0 L534.5,709.6 L535.0,709.0 L535.5,709.0 L536.0,709.0 L536.5,709.0 L537.0,709.0 L537.5,709.0 L538.0,709.0 L538.5,709.0 L539.0,709.0 L539.5,709.0 L540.0,709.0 L540.5,709.0 L541.0,709.0 L541.5,709.0 L542.0,709.0 L542.5,709.0 L543.0,709.0 L543.5,709.0 L544.0,709.0 L544.5,709.0 L545.0,709.0 L545.5,709.0 L546.0,709.0 L546.5,709.0 L547.0,709.0 L547.5,709.0 L548.0,709.0 L548.5,709.0 L549.0,709.0 L549.5,709.0 L550.0,709.0 L550.5,709.0 L551.0,709.0 L551.5,709.0 L552.0,709.0 L552.5,709.0 L553.0,709.0 L553.5,709.0 L554.0,709.0 L554.5,709.0 L555.0,709.0 L555.5,709.0 L556.0,709.0 L556.5,709.0 L557.0,709.0 L557.5,709.0 L558.0,709.0 L558.5,709.0 L559.0,709.0 L559.5,709.0 L560.0,709.0 L560.5,709.0 L561.0,709.0 L561.5,709.0 L562.0,709.0 L562.5,709.0 L563.0,709.0 L563.5,709.0 L564.0,709.0 L564.5,709.0 L565.0,709.0 L565.5,709.0 L566.0,709.0 L566.5,709.0 L567.0,709.0 L567.5,709.0 L568.0,709.0 L568.5,709.0 L569.0,709.0 L569.5,709.0 L570.0,709.0 L570.5,709.0 L571.0,709.0 L571.5,709.0 L572.0,709.0 L572.5,709.0 L573.0,709.0 L573.5,709.0 L574.0,709.0 L574.5,709.0 L575.0,709.0 L575.5,709.0 L576.0,709.0 L576.5,709.0 L577.0,709.0 L577.5,709.0 L578.0,709.0 L578.5,709.0 L579.0,709.0 L579.5,709.0 L580.0,709.0 L580.5,709.0 L581.0,709.0 L581.5,709.0 L582.0,709.0 L582.5,709.0 L583.0,709.0 L583.5,709.0 L584.0,709.0 L584.5,709.0 L585.0,709.0 L585.5,709.0 L586.0,709.0 L586.5,709.0 L587.0,709.0 L587.5,709.0 L588.0,709.0 L588.5,709.0 L589.0,709.0 L589.5,709.0 L590.0,709.0 L590.5,709.0 L591.0,709.0 L591.5,709.0 L592.0,709.0 L592.5,709.0 L593.0,709.0 L593.5,709.0 L594.0,709.0 L594.5,709.0 L595.0,709.0 L595.5,709.0 L596.0,709.0 L596.5,709.0 L597.0,709.0 L597.5,709.0 L598.0,709.0 L598.5,709.0 L599.0,709.0 L599.5,709.0 L600.0,709.0 L600.5,709.0 L601.0,709.0 L601.5,709.0 L602.0,709.0 L602.5,709.0 L603.0,709.0 L603.5,709.0 L604.0,709.0 L604.5,709.0 L605.0,709.0 L605.5,709.0 L606.0,709.0 L606.5,709.0 L607.0,709.0 L607.5,709.0 L608.0,709.0 L608.5,709.0 L609.0,709.0 L609.5,709.0 L610.0,709.0 L610.5,709.0 L611.0,709.0 L611.5,709.0 L612.0,709.0 L612.5,709.0 L613.0,709.0 L613.5,709.0 L614.0,709.0 L614.5,709.0 L615.0,709.0 L615.5,709.0 L616.0,709.0 L616.5,709.0 L617.0,709.0 L617.5,709.0 L618.0,709.0 L618.5,709.0 L619.0,709.0 L619.5,709.0 L620.0,709.0 L620.5,709.0 L621.0,709.0 L621.5,709.0 L622.0,709.0 L622.5,709.0 L623.0,709.0 L623.5,709.0 L624.0,709.0 L624.5,709.0 L625.0,709.0 L625.5,709.0 L626.0,709.0 L626.5,709.0 L627.0,709.0 L627.5,709.0 L628.0,709.0 L628.5,709.0 L629.0,709.0 L629.5,709.0 L630.0,709.0 L630.5,709.0 L631.0,709.0 L631.5,709.0 L632.0,709.0 L632.5,709.0 L633.0,709.0 L633.5,709.0 L634.0,709.0 L634.5,709.0 L635.0,709.0 L635.5,709.0 L636.0,709.0 L636.5,709.0 L637.0,709.0 L637.5,709.0 L638.0,709.0 L638.5,709.0 L639.0,709.0 L639.5,709.0 L640.0,709.0 L640.5,709.0 L641.0,709.0 L641.5,709.0 L642.0,709.0 L642.5,709.0 L643.0,709.0 L643.5,709.0 L644.0,709.0 L644.5,709.0 L645.0,709.0 L645.5,709.0 L646.0,709.0 L646.5,709.0 L647.0,709.0 L647.5,709.0 L648.0,709.0 L648.5,709.0 L649.0,709.0 L649.5,709.0 L650.0,709.0 L650.5,709.0 L651.0,709.0 L651.5,709.0 L652.0,709.0 L652.5,709.0 L653.0,709.0 L653.5,709.0 L654.0,709.0 L654.5,709.0 L655.0,709.0 L655.5,709.0 L656.0,709.0 L656.5,709.0 L657.0,709.0 L657.5,709.0 L658.0,709.0 L658.5,709.0 L659.0,709.0 L659.5,709.0 L660.0,709.0 L660.5,709.0 L661.0,709.0 L661.5,709.0 L662.0,709.0 L662.5,709.0 L663.0,709.0 L663.5,709.0 L664.0,709.1 L664.5,709.0 L665.0,709.0 L665.5,709.0 L666.0,709.0 L666.5,709.0 L667.0,709.0 L667.5,709.0 L668.0,709.0 L668.5,709.2 L669.0,713.9 L669.5,718.5 L670.0,719.3 L670.5,719.7 L671.0,720.1 L671.5,717.6 L672.0,710.1 L672.5,709.0 L673.0,709.0 L673.5,709.0 L674.0,712.5 L674.5,715.4 L675.0,714.4 L675.5,713.3 L676.0,712.2 L676.5,712.2 L677.0,714.7 L677.5,717.2 L678.0,719.5 L678.5,721.3 L679.0,723.2 L679.5,725.1 L680.0,727.0 L680.0,709 Z" fill="url(#gd)"/>
<g stroke="#787b86" stroke-width="1" stroke-dasharray="6 6" shape-rendering="crispEdges">
<line x1="11" y1="581.5" x2="761" y2="581.5"/><line x1="11" y1="709.5" x2="761" y2="709.5"/></g>
<line x1="11" y1="645.5" x2="761" y2="645.5" stroke="#787b86" stroke-opacity="0.6" stroke-width="1" stroke-dasharray="6 6" shape-rendering="crispEdges"/>
<polyline points="10.3,418.6 11.7,420.1 13.1,422.3 14.4,425.0 15.8,428.1 17.2,431.3 18.6,434.2 20.0,436.1 21.3,436.7 22.7,436.2 24.1,434.6 25.5,432.4 26.9,430.1 28.3,428.6 29.6,428.5 31.0,429.8 32.4,431.8 33.8,434.1 35.2,436.3 36.5,438.3 37.9,439.8 39.3,440.6 40.7,441.2 42.1,442.6 43.4,445.7 44.8,449.9 46.2,454.5 47.6,458.9 49.0,462.8 50.4,465.9 51.7,468.0 53.1,469.3 54.5,470.2 55.9,470.8 57.3,471.2 58.6,470.8 60.0,469.0 61.4,465.3 62.8,460.9 64.2,456.9 65.5,454.1 66.9,452.1 68.3,450.6 69.7,449.5 71.1,448.9 72.5,448.6 73.8,448.1 75.2,447.1 76.6,445.5 78.0,443.5 79.4,441.5 80.7,439.8 82.1,438.6 83.5,438.3 84.9,438.9 86.3,440.7 87.6,443.2 89.0,446.0 90.4,448.8 91.8,451.3 93.2,453.5 94.6,455.7 95.9,457.6 97.3,459.3 98.7,460.8 100.1,462.2 101.5,463.6 102.8,465.0 104.2,466.4 105.6,467.7 107.0,468.8 108.4,469.3 109.7,469.3 111.1,468.5 112.5,466.9 113.9,464.2 115.3,460.6 116.7,456.4 118.0,451.7 119.4,446.5 120.8,440.8 122.2,434.3 123.6,426.8 124.9,418.5 126.3,410.6 127.7,403.8 129.1,398.6 130.5,394.6 131.8,391.3 133.2,388.7 134.6,386.9 136.0,386.6 137.4,388.0 138.8,390.9 140.1,394.2 141.5,397.2 142.9,399.7 144.3,402.0 145.7,404.1 147.0,406.0 148.4,407.8 149.8,409.5 151.2,410.7 152.6,411.2 153.9,410.6 155.3,409.3 156.7,407.9 158.1,406.9 159.5,406.8 160.9,407.3 162.2,407.6 163.6,407.1 165.0,405.3 166.4,402.7 167.8,399.5 169.1,396.3 170.5,393.6 171.9,391.2 173.3,389.5 174.7,388.4 176.0,388.3 177.4,388.8 178.8,389.6 180.2,390.4 181.6,391.3 183.0,392.1 184.3,392.9 185.7,393.8 187.1,395.0 188.5,397.0 189.9,400.0 191.2,403.8 192.6,407.8 194.0,411.5 195.4,414.6 196.8,417.0 198.1,418.3 199.5,418.1 200.9,416.7 202.3,414.4 203.7,412.0 205.1,410.0 206.4,408.6 207.8,407.7 209.2,407.0 210.6,406.0 212.0,404.9 213.3,403.5 214.7,401.7 216.1,399.1 217.5,395.3 218.9,390.9 220.2,386.5 221.6,383.1 223.0,380.9 224.4,379.5 225.8,378.6 227.2,378.2 228.5,378.4 229.9,378.9 231.3,379.7 232.7,380.7 234.1,381.8 235.4,383.2 236.8,384.8 238.2,386.8 239.6,389.4 241.0,392.3 242.3,395.5 243.7,398.8 245.1,402.3 246.5,405.2 247.9,406.9 249.3,406.8 250.6,405.1 252.0,402.3 253.4,399.0 254.8,395.1 256.2,390.5 257.5,384.9 258.9,378.6 260.3,371.8 261.7,364.9 263.1,358.5 264.4,353.7 265.8,350.7 267.2,348.5 268.6,345.8 270.0,341.7 271.4,336.7 272.7,331.5 274.1,326.7 275.5,322.2 276.9,318.0 278.3,314.2 279.6,310.8 281.0,308.3 282.4,307.3 283.8,308.3 285.2,310.5 286.5,313.2 287.9,316.0 289.3,318.9 290.7,322.3 292.1,326.9 293.5,332.9 294.8,339.3 296.2,345.2 297.6,349.9 299.0,353.8 300.4,357.3 301.7,360.5 303.1,362.7 304.5,363.2 305.9,361.4 307.3,358.1 308.6,353.8 310.0,349.6 311.4,345.5 312.8,342.0 314.2,339.4 315.6,338.1 316.9,338.3 318.3,339.5 319.7,341.4 321.1,343.7 322.5,345.9 323.8,347.4 325.2,347.9 326.6,347.9 328.0,347.6 329.4,347.2 330.7,346.6 332.1,345.8 333.5,344.5 334.9,342.1 336.3,337.6 337.7,330.7 339.0,322.5 340.4,314.2 341.8,306.6 343.2,299.6 344.6,293.1 345.9,286.8 347.3,280.6 348.7,274.6 350.1,268.8 351.5,263.9 352.8,260.3 354.2,258.6 355.6,258.0 357.0,257.3 358.4,255.4 359.8,252.7 361.1,249.9 362.5,247.7 363.9,246.4 365.3,245.7 366.7,245.1 368.0,243.8 369.4,241.5 370.8,238.1 372.2,233.1 373.6,225.7 374.9,214.7 376.3,201.8 377.7,190.4 379.1,185.3 380.5,184.9 381.9,186.9 383.2,188.6 384.6,190.1 386.0,191.7 387.4,193.4 388.8,194.8 390.1,195.7 391.5,195.8 392.9,195.4 394.3,194.6 395.7,193.7 397.0,192.6 398.4,192.1 399.8,193.3 401.2,196.8 402.6,201.6 404.0,206.5 405.3,210.3 406.7,213.3 408.1,215.5 409.5,217.4 410.9,218.9 412.2,219.9 413.6,220.2 415.0,219.5 416.4,218.1 417.8,216.1 419.1,213.8 420.5,210.9 421.9,207.6 423.3,204.2 424.7,201.0 426.1,198.1 427.4,195.2 428.8,192.9 430.2,191.2 431.6,190.6 433.0,190.6 434.3,191.2 435.7,192.0 437.1,193.3 438.5,194.9 439.9,196.4 441.2,197.5 442.6,198.0 444.0,198.2 445.4,198.4 446.8,199.1 448.2,200.3 449.5,201.3 450.9,201.3 452.3,199.7 453.7,197.1 455.1,194.2 456.4,191.4 457.8,189.3 459.2,188.4 460.6,189.0 462.0,190.9 463.3,192.9 464.7,194.3 466.1,195.4 467.5,196.9 468.9,199.4 470.3,202.7 471.6,207.0 473.0,212.1 474.4,217.1 475.8,221.1 477.2,223.6 478.5,225.0 479.9,225.9 481.3,226.8 482.7,228.2 484.1,230.2 485.4,233.0 486.8,235.9 488.2,238.3 489.6,239.6 491.0,240.2 492.4,240.4 493.7,240.3 495.1,239.8 496.5,239.1 497.9,238.2 499.3,236.9 500.6,234.9 502.0,232.0 503.4,228.5 504.8,224.7 506.2,220.9 507.5,217.1 508.9,213.5 510.3,210.1 511.7,206.9 513.1,204.4 514.5,203.2 515.8,203.7 517.2,205.4 518.6,207.9 520.0,210.7 521.4,213.8 522.7,216.9 524.1,219.9 525.5,222.8 526.9,225.6 528.3,228.4 529.6,231.3 531.0,234.5 532.4,237.8 533.8,241.2 535.2,244.4 536.6,247.2 537.9,249.2 539.3,250.5 540.7,251.4 542.1,252.1 543.5,252.6 544.8,253.0 546.2,253.4 547.6,253.9 549.0,254.5 550.4,255.3 551.7,256.3 553.1,257.3 554.5,258.2 555.9,258.9 557.3,259.5 558.7,259.9 560.0,260.0 561.4,259.4 562.8,257.7 564.2,254.9 565.6,251.5 566.9,248.3 568.3,245.5 569.7,243.0 571.1,241.1 572.5,239.7 573.8,239.6 575.2,241.2 576.6,245.1 578.0,250.7 579.4,257.8 580.8,265.3 582.1,272.8 583.5,279.6 584.9,285.4 586.3,290.2 587.7,293.6 589.0,295.5 590.4,295.6 591.8,294.8 593.2,293.7 594.6,293.0 595.9,292.7 597.3,292.6 598.7,292.5 600.1,292.0 601.5,291.1 602.9,289.6 604.2,287.9 605.6,286.4 607.0,285.1 608.4,284.2 609.8,283.8 611.1,284.3 612.5,285.7 613.9,287.8 615.3,290.2 616.7,292.8 618.0,295.5 619.4,298.1 620.8,300.4 622.2,302.2 623.6,303.6 625.0,304.3 626.3,304.0 627.7,302.6 629.1,300.7 630.5,298.8 631.9,297.3 633.2,296.1 634.6,295.4 636.0,295.1 637.4,295.4 638.8,296.2 640.1,297.2 641.5,298.3 642.9,299.6 644.3,301.0 645.7,302.3 647.1,303.7 648.4,305.1 649.8,306.5 651.2,307.9 652.6,309.3 654.0,310.8 655.3,312.4 656.7,314.2 658.1,316.4 659.5,319.2 660.9,322.9 662.2,327.2 663.6,331.7 665.0,336.1 666.4,340.3 667.8,344.6 669.2,348.8 670.5,353.2 671.9,357.8 673.3,362.4 674.7,367.2 676.1,372.1 677.4,376.9 678.8,380.9 679.6,384.9" fill="none" stroke="#2962ff" stroke-width="1" stroke-linejoin="round"/>
<g shape-rendering="crispEdges"><rect x="10.0" y="418.9" width="1" height="15.3" fill="#26a69a"/><rect x="12.0" y="419.2" width="1" height="18.1" fill="#ef5350"/><rect x="13.0" y="430.0" width="1" height="12.7" fill="#26a69a"/><rect x="14.0" y="429.2" width="1" height="12.8" fill="#ef5350"/><rect x="16.0" y="433.9" width="1" height="13.2" fill="#ef5350"/><rect x="17.0" y="435.7" width="1" height="14.4" fill="#26a69a"/><rect x="19.0" y="435.0" width="1" height="10.7" fill="#ef5350"/><rect x="20.0" y="433.0" width="1" height="17.4" fill="#26a69a"/><rect x="21.0" y="424.5" width="1" height="23.8" fill="#26a69a"/><rect x="23.0" y="420.2" width="1" height="19.7" fill="#ef5350"/><rect x="24.0" y="423.4" width="1" height="12.5" fill="#26a69a"/><rect x="25.0" y="414.1" width="1" height="19.9" fill="#26a69a"/><rect x="27.0" y="404.0" width="1" height="22.9" fill="#26a69a"/><rect x="28.0" y="412.5" width="1" height="19.8" fill="#ef5350"/><rect x="30.0" y="400.0" width="1" height="44.1" fill="#ef5350"/><rect x="31.0" y="400.0" width="1" height="44.7" fill="#ef5350"/><rect x="32.0" y="422.8" width="1" height="22.8" fill="#26a69a"/><rect x="34.0" y="429.2" width="1" height="22.0" fill="#ef5350"/><rect x="35.0" y="437.8" width="1" height="17.1" fill="#ef5350"/><rect x="37.0" y="437.8" width="1" height="12.3" fill="#ef5350"/><rect x="38.0" y="433.7" width="1" height="17.5" fill="#26a69a"/><rect x="39.0" y="430.0" width="1" height="25.9" fill="#ef5350"/><rect x="41.0" y="443.0" width="1" height="15.5" fill="#ef5350"/><rect x="42.0" y="438.9" width="1" height="18.3" fill="#ef5350"/><rect x="43.0" y="447.6" width="1" height="23.5" fill="#ef5350"/><rect x="45.0" y="461.2" width="1" height="15.5" fill="#ef5350"/><rect x="46.0" y="457.6" width="1" height="18.8" fill="#26a69a"/><rect x="48.0" y="459.9" width="1" height="17.8" fill="#ef5350"/><rect x="49.0" y="454.7" width="1" height="23.2" fill="#26a69a"/><rect x="50.0" y="455.8" width="1" height="29.2" fill="#ef5350"/><rect x="52.0" y="468.6" width="1" height="13.7" fill="#26a69a"/><rect x="53.0" y="461.9" width="1" height="18.8" fill="#26a69a"/><rect x="54.0" y="460.7" width="1" height="17.9" fill="#ef5350"/><rect x="56.0" y="459.7" width="1" height="22.0" fill="#26a69a"/><rect x="57.0" y="463.1" width="1" height="21.9" fill="#ef5350"/><rect x="59.0" y="449.1" width="1" height="27.5" fill="#26a69a"/><rect x="60.0" y="440.6" width="1" height="23.9" fill="#26a69a"/><rect x="61.0" y="434.7" width="1" height="21.3" fill="#26a69a"/><rect x="63.0" y="434.5" width="1" height="18.8" fill="#ef5350"/><rect x="64.0" y="441.4" width="1" height="15.8" fill="#ef5350"/><rect x="66.0" y="437.5" width="1" height="16.9" fill="#26a69a"/><rect x="67.0" y="438.1" width="1" height="15.3" fill="#ef5350"/><rect x="68.0" y="441.9" width="1" height="16.5" fill="#26a69a"/><rect x="70.0" y="442.9" width="1" height="10.8" fill="#ef5350"/><rect x="71.0" y="442.1" width="1" height="12.6" fill="#26a69a"/><rect x="72.0" y="434.2" width="1" height="20.5" fill="#26a69a"/><rect x="74.0" y="430.2" width="1" height="21.2" fill="#26a69a"/><rect x="75.0" y="427.0" width="1" height="19.7" fill="#ef5350"/><rect x="77.0" y="429.2" width="1" height="23.0" fill="#ef5350"/><rect x="78.0" y="436.5" width="1" height="16.7" fill="#26a69a"/><rect x="79.0" y="425.9" width="1" height="23.8" fill="#26a69a"/><rect x="81.0" y="425.1" width="1" height="21.3" fill="#ef5350"/><rect x="82.0" y="437.3" width="1" height="9.2" fill="#26a69a"/><rect x="84.0" y="432.8" width="1" height="12.4" fill="#ef5350"/><rect x="85.0" y="437.4" width="1" height="15.6" fill="#ef5350"/><rect x="86.0" y="440.9" width="1" height="13.5" fill="#ef5350"/><rect x="88.0" y="446.4" width="1" height="10.3" fill="#ef5350"/><rect x="89.0" y="443.9" width="1" height="14.2" fill="#26a69a"/><rect x="90.0" y="441.6" width="1" height="23.5" fill="#ef5350"/><rect x="92.0" y="446.7" width="1" height="24.2" fill="#ef5350"/><rect x="93.0" y="455.4" width="1" height="21.9" fill="#ef5350"/><rect x="95.0" y="460.9" width="1" height="9.8" fill="#26a69a"/><rect x="96.0" y="454.1" width="1" height="14.4" fill="#26a69a"/><rect x="97.0" y="452.8" width="1" height="22.7" fill="#ef5350"/><rect x="99.0" y="458.0" width="1" height="19.1" fill="#ef5350"/><rect x="100.0" y="462.1" width="1" height="14.1" fill="#26a69a"/><rect x="101.0" y="459.0" width="1" height="25.0" fill="#26a69a"/><rect x="103.0" y="461.1" width="1" height="11.4" fill="#26a69a"/><rect x="104.0" y="457.5" width="1" height="13.4" fill="#ef5350"/><rect x="106.0" y="456.4" width="1" height="16.2" fill="#ef5350"/><rect x="107.0" y="459.2" width="1" height="17.4" fill="#26a69a"/><rect x="108.0" y="459.5" width="1" height="18.5" fill="#ef5350"/><rect x="110.0" y="455.8" width="1" height="20.1" fill="#26a69a"/><rect x="111.0" y="456.1" width="1" height="21.2" fill="#26a69a"/><rect x="113.0" y="460.0" width="1" height="11.3" fill="#ef5350"/><rect x="114.0" y="452.9" width="1" height="14.6" fill="#26a69a"/><rect x="115.0" y="442.7" width="1" height="26.7" fill="#26a69a"/><rect x="117.0" y="437.9" width="1" height="19.4" fill="#26a69a"/><rect x="118.0" y="427.0" width="1" height="21.2" fill="#26a69a"/><rect x="119.0" y="411.9" width="1" height="33.9" fill="#26a69a"/><rect x="121.0" y="402.3" width="1" height="31.0" fill="#26a69a"/><rect x="122.0" y="396.9" width="1" height="20.8" fill="#26a69a"/><rect x="124.0" y="391.9" width="1" height="21.4" fill="#26a69a"/><rect x="125.0" y="381.3" width="1" height="26.6" fill="#26a69a"/><rect x="126.0" y="371.7" width="1" height="28.7" fill="#26a69a"/><rect x="128.0" y="358.0" width="1" height="24.4" fill="#26a69a"/><rect x="129.0" y="368.5" width="1" height="15.5" fill="#26a69a"/><rect x="130.0" y="372.2" width="1" height="14.3" fill="#ef5350"/><rect x="132.0" y="352.0" width="1" height="37.5" fill="#26a69a"/><rect x="133.0" y="376.4" width="1" height="18.0" fill="#ef5350"/><rect x="135.0" y="383.0" width="1" height="15.3" fill="#ef5350"/><rect x="136.0" y="317.0" width="1" height="87.8" fill="#26a69a"/><rect x="137.0" y="384.7" width="1" height="28.3" fill="#ef5350"/><rect x="139.0" y="398.9" width="1" height="13.4" fill="#ef5350"/><rect x="140.0" y="399.0" width="1" height="15.7" fill="#ef5350"/><rect x="142.0" y="401.4" width="1" height="16.9" fill="#26a69a"/><rect x="143.0" y="400.0" width="1" height="22.8" fill="#ef5350"/><rect x="144.0" y="395.2" width="1" height="33.6" fill="#ef5350"/><rect x="146.0" y="411.9" width="1" height="12.2" fill="#ef5350"/><rect x="147.0" y="406.8" width="1" height="24.1" fill="#26a69a"/><rect x="148.0" y="409.5" width="1" height="11.8" fill="#26a69a"/><rect x="150.0" y="405.5" width="1" height="15.7" fill="#26a69a"/><rect x="151.0" y="402.4" width="1" height="14.6" fill="#ef5350"/><rect x="153.0" y="401.2" width="1" height="21.4" fill="#26a69a"/><rect x="154.0" y="395.4" width="1" height="20.2" fill="#26a69a"/><rect x="155.0" y="398.2" width="1" height="19.7" fill="#ef5350"/><rect x="157.0" y="392.0" width="1" height="17.6" fill="#26a69a"/><rect x="158.0" y="395.5" width="1" height="25.1" fill="#ef5350"/><rect x="159.0" y="402.7" width="1" height="15.8" fill="#ef5350"/><rect x="161.0" y="403.9" width="1" height="22.5" fill="#ef5350"/><rect x="162.0" y="401.7" width="1" height="28.1" fill="#26a69a"/><rect x="164.0" y="396.7" width="1" height="22.2" fill="#26a69a"/><rect x="165.0" y="393.1" width="1" height="17.4" fill="#26a69a"/><rect x="166.0" y="383.7" width="1" height="20.3" fill="#26a69a"/><rect x="168.0" y="387.4" width="1" height="12.1" fill="#26a69a"/><rect x="169.0" y="378.5" width="1" height="18.1" fill="#26a69a"/><rect x="171.0" y="373.0" width="1" height="20.2" fill="#ef5350"/><rect x="172.0" y="370.4" width="1" height="16.3" fill="#ef5350"/><rect x="173.0" y="370.0" width="1" height="20.7" fill="#26a69a"/><rect x="175.0" y="376.5" width="1" height="13.5" fill="#ef5350"/><rect x="176.0" y="373.3" width="1" height="25.0" fill="#ef5350"/><rect x="177.0" y="383.9" width="1" height="16.8" fill="#26a69a"/><rect x="179.0" y="379.8" width="1" height="20.3" fill="#26a69a"/><rect x="180.0" y="385.4" width="1" height="19.3" fill="#ef5350"/><rect x="182.0" y="383.7" width="1" height="23.6" fill="#ef5350"/><rect x="183.0" y="391.5" width="1" height="8.9" fill="#26a69a"/><rect x="184.0" y="387.0" width="1" height="17.1" fill="#ef5350"/><rect x="186.0" y="395.5" width="1" height="16.5" fill="#ef5350"/><rect x="187.0" y="393.9" width="1" height="21.8" fill="#ef5350"/><rect x="188.0" y="397.1" width="1" height="26.5" fill="#ef5350"/><rect x="190.0" y="406.7" width="1" height="25.8" fill="#ef5350"/><rect x="191.0" y="412.5" width="1" height="10.4" fill="#ef5350"/><rect x="193.0" y="415.0" width="1" height="25.4" fill="#ef5350"/><rect x="194.0" y="415.0" width="1" height="13.7" fill="#ef5350"/><rect x="195.0" y="418.1" width="1" height="10.4" fill="#ef5350"/><rect x="197.0" y="416.1" width="1" height="36.9" fill="#26a69a"/><rect x="198.0" y="403.6" width="1" height="19.7" fill="#26a69a"/><rect x="200.0" y="403.0" width="1" height="16.8" fill="#26a69a"/><rect x="201.0" y="391.2" width="1" height="23.4" fill="#26a69a"/><rect x="202.0" y="386.9" width="1" height="22.5" fill="#26a69a"/><rect x="204.0" y="386.3" width="1" height="18.1" fill="#ef5350"/><rect x="205.0" y="391.1" width="1" height="12.4" fill="#26a69a"/><rect x="206.0" y="392.9" width="1" height="16.0" fill="#ef5350"/><rect x="208.0" y="392.2" width="1" height="15.0" fill="#26a69a"/><rect x="209.0" y="387.3" width="1" height="23.0" fill="#26a69a"/><rect x="211.0" y="389.3" width="1" height="14.8" fill="#26a69a"/><rect x="212.0" y="390.1" width="1" height="10.1" fill="#26a69a"/><rect x="213.0" y="383.8" width="1" height="13.4" fill="#26a69a"/><rect x="215.0" y="383.3" width="1" height="16.2" fill="#26a69a"/><rect x="216.0" y="340.0" width="1" height="54.6" fill="#26a69a"/><rect x="217.0" y="362.1" width="1" height="29.6" fill="#26a69a"/><rect x="219.0" y="363.2" width="1" height="11.0" fill="#26a69a"/><rect x="220.0" y="351.3" width="1" height="23.1" fill="#26a69a"/><rect x="222.0" y="356.0" width="1" height="17.6" fill="#ef5350"/><rect x="223.0" y="357.9" width="1" height="20.5" fill="#ef5350"/><rect x="224.0" y="369.5" width="1" height="17.4" fill="#ef5350"/><rect x="226.0" y="372.3" width="1" height="18.8" fill="#ef5350"/><rect x="227.0" y="367.8" width="1" height="22.4" fill="#26a69a"/><rect x="229.0" y="368.5" width="1" height="18.4" fill="#ef5350"/><rect x="230.0" y="376.7" width="1" height="15.8" fill="#ef5350"/><rect x="231.0" y="381.9" width="1" height="22.7" fill="#ef5350"/><rect x="233.0" y="379.8" width="1" height="16.3" fill="#26a69a"/><rect x="234.0" y="381.4" width="1" height="11.3" fill="#ef5350"/><rect x="235.0" y="382.3" width="1" height="24.5" fill="#ef5350"/><rect x="237.0" y="386.2" width="1" height="17.0" fill="#26a69a"/><rect x="238.0" y="386.9" width="1" height="18.9" fill="#ef5350"/><rect x="240.0" y="387.5" width="1" height="27.3" fill="#ef5350"/><rect x="241.0" y="398.3" width="1" height="13.6" fill="#26a69a"/><rect x="242.0" y="400.3" width="1" height="15.0" fill="#ef5350"/><rect x="244.0" y="397.9" width="1" height="22.3" fill="#26a69a"/><rect x="245.0" y="405.4" width="1" height="30.6" fill="#ef5350"/><rect x="246.0" y="401.9" width="1" height="34.8" fill="#26a69a"/><rect x="248.0" y="401.9" width="1" height="14.5" fill="#26a69a"/><rect x="249.0" y="388.9" width="1" height="28.9" fill="#26a69a"/><rect x="251.0" y="385.2" width="1" height="24.6" fill="#26a69a"/><rect x="252.0" y="379.0" width="1" height="25.8" fill="#26a69a"/><rect x="253.0" y="374.6" width="1" height="20.1" fill="#26a69a"/><rect x="255.0" y="370.3" width="1" height="16.5" fill="#26a69a"/><rect x="256.0" y="369.4" width="1" height="15.8" fill="#26a69a"/><rect x="258.0" y="353.2" width="1" height="25.3" fill="#26a69a"/><rect x="259.0" y="344.0" width="1" height="17.1" fill="#26a69a"/><rect x="260.0" y="337.9" width="1" height="19.7" fill="#26a69a"/><rect x="262.0" y="335.5" width="1" height="11.3" fill="#26a69a"/><rect x="263.0" y="331.3" width="1" height="17.8" fill="#26a69a"/><rect x="264.0" y="327.4" width="1" height="29.7" fill="#ef5350"/><rect x="266.0" y="335.4" width="1" height="18.5" fill="#26a69a"/><rect x="267.0" y="328.5" width="1" height="26.3" fill="#26a69a"/><rect x="269.0" y="318.6" width="1" height="20.4" fill="#26a69a"/><rect x="270.0" y="318.7" width="1" height="16.2" fill="#26a69a"/><rect x="271.0" y="310.9" width="1" height="17.1" fill="#26a69a"/><rect x="273.0" y="278.0" width="1" height="41.0" fill="#ef5350"/><rect x="274.0" y="307.8" width="1" height="12.0" fill="#26a69a"/><rect x="275.0" y="295.0" width="1" height="22.5" fill="#26a69a"/><rect x="277.0" y="300.0" width="1" height="9.8" fill="#ef5350"/><rect x="278.0" y="292.9" width="1" height="17.0" fill="#26a69a"/><rect x="280.0" y="283.0" width="1" height="20.0" fill="#26a69a"/><rect x="281.0" y="281.3" width="1" height="30.7" fill="#ef5350"/><rect x="282.0" y="293.1" width="1" height="18.5" fill="#26a69a"/><rect x="284.0" y="296.3" width="1" height="28.3" fill="#ef5350"/><rect x="285.0" y="308.0" width="1" height="25.5" fill="#ef5350"/><rect x="287.0" y="306.3" width="1" height="38.9" fill="#ef5350"/><rect x="288.0" y="318.1" width="1" height="14.8" fill="#26a69a"/><rect x="289.0" y="315.2" width="1" height="26.8" fill="#ef5350"/><rect x="291.0" y="324.3" width="1" height="15.8" fill="#ef5350"/><rect x="292.0" y="326.7" width="1" height="23.4" fill="#ef5350"/><rect x="293.0" y="333.4" width="1" height="30.5" fill="#ef5350"/><rect x="295.0" y="346.6" width="1" height="28.4" fill="#ef5350"/><rect x="296.0" y="357.1" width="1" height="24.0" fill="#ef5350"/><rect x="298.0" y="359.0" width="1" height="17.7" fill="#ef5350"/><rect x="299.0" y="365.3" width="1" height="9.4" fill="#26a69a"/><rect x="300.0" y="361.2" width="1" height="14.1" fill="#ef5350"/><rect x="302.0" y="361.7" width="1" height="22.3" fill="#26a69a"/><rect x="303.0" y="353.3" width="1" height="20.3" fill="#26a69a"/><rect x="305.0" y="356.3" width="1" height="22.0" fill="#26a69a"/><rect x="306.0" y="344.7" width="1" height="25.5" fill="#26a69a"/><rect x="307.0" y="340.2" width="1" height="14.2" fill="#26a69a"/><rect x="309.0" y="329.4" width="1" height="26.1" fill="#26a69a"/><rect x="310.0" y="320.8" width="1" height="21.1" fill="#26a69a"/><rect x="311.0" y="317.5" width="1" height="21.2" fill="#26a69a"/><rect x="313.0" y="320.3" width="1" height="12.7" fill="#26a69a"/><rect x="314.0" y="300.0" width="1" height="37.6" fill="#ef5350"/><rect x="316.0" y="328.8" width="1" height="14.8" fill="#ef5350"/><rect x="317.0" y="327.3" width="1" height="28.1" fill="#ef5350"/><rect x="318.0" y="345.0" width="1" height="12.3" fill="#26a69a"/><rect x="320.0" y="339.5" width="1" height="15.0" fill="#ef5350"/><rect x="321.0" y="342.5" width="1" height="13.9" fill="#26a69a"/><rect x="322.0" y="341.1" width="1" height="14.0" fill="#ef5350"/><rect x="324.0" y="342.0" width="1" height="34.0" fill="#ef5350"/><rect x="325.0" y="333.0" width="1" height="24.0" fill="#26a69a"/><rect x="327.0" y="339.7" width="1" height="15.5" fill="#26a69a"/><rect x="328.0" y="338.5" width="1" height="13.8" fill="#ef5350"/><rect x="329.0" y="340.4" width="1" height="15.0" fill="#26a69a"/><rect x="331.0" y="332.2" width="1" height="16.8" fill="#26a69a"/><rect x="332.0" y="337.7" width="1" height="11.0" fill="#ef5350"/><rect x="334.0" y="328.7" width="1" height="19.6" fill="#26a69a"/><rect x="335.0" y="318.6" width="1" height="24.1" fill="#26a69a"/><rect x="336.0" y="315.5" width="1" height="21.1" fill="#26a69a"/><rect x="338.0" y="296.0" width="1" height="30.4" fill="#26a69a"/><rect x="339.0" y="288.4" width="1" height="28.4" fill="#26a69a"/><rect x="340.0" y="273.5" width="1" height="25.1" fill="#26a69a"/><rect x="342.0" y="268.4" width="1" height="16.4" fill="#26a69a"/><rect x="343.0" y="266.9" width="1" height="14.8" fill="#26a69a"/><rect x="345.0" y="248.5" width="1" height="33.7" fill="#26a69a"/><rect x="346.0" y="255.0" width="1" height="17.1" fill="#ef5350"/><rect x="347.0" y="247.4" width="1" height="22.9" fill="#26a69a"/><rect x="349.0" y="244.6" width="1" height="16.1" fill="#26a69a"/><rect x="350.0" y="230.1" width="1" height="35.8" fill="#26a69a"/><rect x="351.0" y="236.6" width="1" height="22.5" fill="#ef5350"/><rect x="353.0" y="242.0" width="1" height="12.1" fill="#26a69a"/><rect x="354.0" y="240.4" width="1" height="19.4" fill="#ef5350"/><rect x="356.0" y="240.7" width="1" height="20.8" fill="#26a69a"/><rect x="357.0" y="241.3" width="1" height="12.2" fill="#26a69a"/><rect x="358.0" y="237.2" width="1" height="21.1" fill="#26a69a"/><rect x="360.0" y="232.1" width="1" height="16.5" fill="#26a69a"/><rect x="361.0" y="235.4" width="1" height="9.5" fill="#ef5350"/><rect x="363.0" y="236.0" width="1" height="10.8" fill="#ef5350"/><rect x="364.0" y="229.5" width="1" height="21.8" fill="#ef5350"/><rect x="365.0" y="235.3" width="1" height="18.9" fill="#26a69a"/><rect x="367.0" y="229.0" width="1" height="21.0" fill="#26a69a"/><rect x="368.0" y="219.3" width="1" height="25.2" fill="#26a69a"/><rect x="369.0" y="225.3" width="1" height="14.8" fill="#26a69a"/><rect x="371.0" y="222.2" width="1" height="18.1" fill="#26a69a"/><rect x="372.0" y="194.7" width="1" height="42.4" fill="#26a69a"/><rect x="374.0" y="172.3" width="1" height="51.2" fill="#26a69a"/><rect x="375.0" y="149.0" width="1" height="52.4" fill="#26a69a"/><rect x="376.0" y="99.0" width="1" height="74.6" fill="#26a69a"/><rect x="378.0" y="76.9" width="1" height="101.3" fill="#ef5350"/><rect x="379.0" y="155.4" width="1" height="35.4" fill="#ef5350"/><rect x="380.0" y="83.8" width="1" height="119.6" fill="#ef5350"/><rect x="382.0" y="176.2" width="1" height="30.1" fill="#ef5350"/><rect x="383.0" y="156.0" width="1" height="48.9" fill="#ef5350"/><rect x="385.0" y="190.3" width="1" height="15.9" fill="#26a69a"/><rect x="386.0" y="188.1" width="1" height="28.1" fill="#ef5350"/><rect x="387.0" y="199.1" width="1" height="21.0" fill="#26a69a"/><rect x="389.0" y="180.4" width="1" height="46.2" fill="#26a69a"/><rect x="390.0" y="188.7" width="1" height="21.4" fill="#ef5350"/><rect x="392.0" y="191.3" width="1" height="21.9" fill="#ef5350"/><rect x="393.0" y="185.8" width="1" height="27.0" fill="#26a69a"/><rect x="394.0" y="181.1" width="1" height="33.0" fill="#26a69a"/><rect x="396.0" y="164.8" width="1" height="33.6" fill="#26a69a"/><rect x="397.0" y="166.3" width="1" height="27.6" fill="#ef5350"/><rect x="398.0" y="172.3" width="1" height="21.2" fill="#ef5350"/><rect x="400.0" y="169.0" width="1" height="27.6" fill="#26a69a"/><rect x="401.0" y="177.9" width="1" height="28.3" fill="#ef5350"/><rect x="403.0" y="183.3" width="1" height="42.7" fill="#ef5350"/><rect x="404.0" y="205.6" width="1" height="27.9" fill="#ef5350"/><rect x="405.0" y="217.0" width="1" height="33.5" fill="#26a69a"/><rect x="407.0" y="218.1" width="1" height="16.7" fill="#ef5350"/><rect x="408.0" y="214.3" width="1" height="18.5" fill="#26a69a"/><rect x="409.0" y="199.7" width="1" height="28.4" fill="#26a69a"/><rect x="411.0" y="204.3" width="1" height="35.5" fill="#ef5350"/><rect x="412.0" y="218.1" width="1" height="12.3" fill="#ef5350"/><rect x="414.0" y="215.9" width="1" height="17.3" fill="#26a69a"/><rect x="415.0" y="214.8" width="1" height="18.0" fill="#ef5350"/><rect x="416.0" y="199.5" width="1" height="31.2" fill="#26a69a"/><rect x="418.0" y="199.9" width="1" height="19.7" fill="#26a69a"/><rect x="419.0" y="194.5" width="1" height="27.3" fill="#ef5350"/><rect x="421.0" y="195.6" width="1" height="23.3" fill="#ef5350"/><rect x="422.0" y="193.7" width="1" height="27.1" fill="#26a69a"/><rect x="423.0" y="191.7" width="1" height="28.2" fill="#ef5350"/><rect x="425.0" y="177.0" width="1" height="33.7" fill="#26a69a"/><rect x="426.0" y="185.6" width="1" height="14.2" fill="#26a69a"/><rect x="427.0" y="167.8" width="1" height="37.6" fill="#26a69a"/><rect x="429.0" y="168.4" width="1" height="24.0" fill="#26a69a"/><rect x="430.0" y="168.9" width="1" height="19.4" fill="#ef5350"/><rect x="432.0" y="179.4" width="1" height="24.1" fill="#ef5350"/><rect x="433.0" y="181.9" width="1" height="24.2" fill="#26a69a"/><rect x="434.0" y="186.6" width="1" height="19.0" fill="#ef5350"/><rect x="436.0" y="187.2" width="1" height="23.4" fill="#ef5350"/><rect x="437.0" y="189.5" width="1" height="27.1" fill="#26a69a"/><rect x="438.0" y="183.2" width="1" height="24.6" fill="#26a69a"/><rect x="440.0" y="182.3" width="1" height="16.8" fill="#ef5350"/><rect x="441.0" y="185.1" width="1" height="15.0" fill="#26a69a"/><rect x="443.0" y="182.5" width="1" height="34.9" fill="#ef5350"/><rect x="444.0" y="191.7" width="1" height="23.4" fill="#ef5350"/><rect x="445.0" y="191.9" width="1" height="20.9" fill="#26a69a"/><rect x="447.0" y="189.4" width="1" height="14.6" fill="#ef5350"/><rect x="448.0" y="183.2" width="1" height="45.7" fill="#ef5350"/><rect x="450.0" y="199.6" width="1" height="35.1" fill="#26a69a"/><rect x="451.0" y="189.7" width="1" height="42.9" fill="#26a69a"/><rect x="452.0" y="187.3" width="1" height="21.3" fill="#26a69a"/><rect x="454.0" y="182.8" width="1" height="23.6" fill="#26a69a"/><rect x="455.0" y="176.2" width="1" height="27.8" fill="#26a69a"/><rect x="456.0" y="172.4" width="1" height="18.4" fill="#26a69a"/><rect x="458.0" y="167.8" width="1" height="25.5" fill="#26a69a"/><rect x="459.0" y="169.7" width="1" height="29.4" fill="#ef5350"/><rect x="461.0" y="181.8" width="1" height="21.8" fill="#ef5350"/><rect x="462.0" y="181.5" width="1" height="28.5" fill="#26a69a"/><rect x="463.0" y="182.3" width="1" height="37.4" fill="#ef5350"/><rect x="465.0" y="195.9" width="1" height="15.8" fill="#ef5350"/><rect x="466.0" y="192.8" width="1" height="23.8" fill="#26a69a"/><rect x="467.0" y="192.8" width="1" height="20.0" fill="#ef5350"/><rect x="469.0" y="194.5" width="1" height="22.4" fill="#ef5350"/><rect x="470.0" y="202.2" width="1" height="20.9" fill="#ef5350"/><rect x="472.0" y="209.4" width="1" height="13.2" fill="#ef5350"/><rect x="473.0" y="210.7" width="1" height="23.8" fill="#ef5350"/><rect x="474.0" y="213.5" width="1" height="20.5" fill="#26a69a"/><rect x="476.0" y="216.2" width="1" height="39.8" fill="#ef5350"/><rect x="477.0" y="203.1" width="1" height="34.9" fill="#26a69a"/><rect x="479.0" y="214.8" width="1" height="15.8" fill="#ef5350"/><rect x="480.0" y="217.8" width="1" height="16.6" fill="#ef5350"/><rect x="481.0" y="219.4" width="1" height="21.7" fill="#ef5350"/><rect x="483.0" y="230.4" width="1" height="14.3" fill="#26a69a"/><rect x="484.0" y="225.9" width="1" height="11.4" fill="#ef5350"/><rect x="485.0" y="223.9" width="1" height="18.1" fill="#ef5350"/><rect x="487.0" y="232.4" width="1" height="15.0" fill="#ef5350"/><rect x="488.0" y="235.8" width="1" height="23.0" fill="#ef5350"/><rect x="490.0" y="236.6" width="1" height="14.9" fill="#ef5350"/><rect x="491.0" y="238.4" width="1" height="9.6" fill="#ef5350"/><rect x="492.0" y="238.2" width="1" height="17.1" fill="#ef5350"/><rect x="494.0" y="236.2" width="1" height="16.5" fill="#26a69a"/><rect x="495.0" y="232.6" width="1" height="22.0" fill="#ef5350"/><rect x="496.0" y="240.4" width="1" height="19.2" fill="#ef5350"/><rect x="498.0" y="236.7" width="1" height="16.3" fill="#26a69a"/><rect x="499.0" y="213.9" width="1" height="36.8" fill="#26a69a"/><rect x="501.0" y="216.2" width="1" height="17.3" fill="#26a69a"/><rect x="502.0" y="212.7" width="1" height="13.9" fill="#26a69a"/><rect x="503.0" y="198.1" width="1" height="29.7" fill="#26a69a"/><rect x="505.0" y="197.7" width="1" height="13.3" fill="#ef5350"/><rect x="506.0" y="199.8" width="1" height="14.0" fill="#26a69a"/><rect x="508.0" y="187.7" width="1" height="24.8" fill="#26a69a"/><rect x="509.0" y="186.1" width="1" height="22.1" fill="#ef5350"/><rect x="510.0" y="188.7" width="1" height="18.6" fill="#ef5350"/><rect x="512.0" y="189.7" width="1" height="14.8" fill="#26a69a"/><rect x="513.0" y="172.8" width="1" height="35.7" fill="#26a69a"/><rect x="514.0" y="192.7" width="1" height="13.1" fill="#ef5350"/><rect x="516.0" y="195.5" width="1" height="12.7" fill="#ef5350"/><rect x="517.0" y="193.9" width="1" height="25.3" fill="#ef5350"/><rect x="519.0" y="206.8" width="1" height="21.2" fill="#ef5350"/><rect x="520.0" y="214.8" width="1" height="14.6" fill="#ef5350"/><rect x="521.0" y="213.5" width="1" height="13.3" fill="#26a69a"/><rect x="523.0" y="204.9" width="1" height="26.7" fill="#ef5350"/><rect x="524.0" y="219.6" width="1" height="12.6" fill="#26a69a"/><rect x="526.0" y="220.4" width="1" height="18.0" fill="#ef5350"/><rect x="527.0" y="223.7" width="1" height="28.4" fill="#ef5350"/><rect x="528.0" y="229.6" width="1" height="15.8" fill="#ef5350"/><rect x="530.0" y="234.0" width="1" height="12.9" fill="#26a69a"/><rect x="531.0" y="235.3" width="1" height="12.3" fill="#26a69a"/><rect x="532.0" y="234.9" width="1" height="25.1" fill="#ef5350"/><rect x="534.0" y="248.4" width="1" height="11.8" fill="#ef5350"/><rect x="535.0" y="247.3" width="1" height="21.2" fill="#ef5350"/><rect x="537.0" y="249.2" width="1" height="21.6" fill="#ef5350"/><rect x="538.0" y="249.7" width="1" height="14.7" fill="#26a69a"/><rect x="539.0" y="242.6" width="1" height="22.1" fill="#26a69a"/><rect x="541.0" y="245.2" width="1" height="17.2" fill="#26a69a"/><rect x="542.0" y="237.5" width="1" height="19.6" fill="#26a69a"/><rect x="543.0" y="234.7" width="1" height="13.3" fill="#ef5350"/><rect x="545.0" y="235.2" width="1" height="16.9" fill="#ef5350"/><rect x="546.0" y="242.3" width="1" height="17.2" fill="#ef5350"/><rect x="548.0" y="243.8" width="1" height="15.2" fill="#ef5350"/><rect x="549.0" y="251.3" width="1" height="10.5" fill="#ef5350"/><rect x="550.0" y="251.6" width="1" height="10.7" fill="#ef5350"/><rect x="552.0" y="250.0" width="1" height="23.9" fill="#ef5350"/><rect x="553.0" y="254.9" width="1" height="17.0" fill="#26a69a"/><rect x="555.0" y="252.6" width="1" height="15.6" fill="#ef5350"/><rect x="556.0" y="248.4" width="1" height="18.5" fill="#26a69a"/><rect x="557.0" y="245.6" width="1" height="22.1" fill="#ef5350"/><rect x="559.0" y="256.1" width="1" height="11.1" fill="#26a69a"/><rect x="560.0" y="256.9" width="1" height="8.6" fill="#ef5350"/><rect x="561.0" y="254.9" width="1" height="14.5" fill="#ef5350"/><rect x="563.0" y="246.3" width="1" height="39.6" fill="#26a69a"/><rect x="564.0" y="237.8" width="1" height="25.7" fill="#26a69a"/><rect x="566.0" y="237.0" width="1" height="12.9" fill="#26a69a"/><rect x="567.0" y="222.0" width="1" height="24.6" fill="#26a69a"/><rect x="568.0" y="227.8" width="1" height="13.5" fill="#ef5350"/><rect x="570.0" y="230.3" width="1" height="8.7" fill="#26a69a"/><rect x="571.0" y="196.3" width="1" height="42.9" fill="#ef5350"/><rect x="572.0" y="222.0" width="1" height="25.7" fill="#ef5350"/><rect x="574.0" y="233.0" width="1" height="11.7" fill="#ef5350"/><rect x="575.0" y="237.5" width="1" height="22.3" fill="#ef5350"/><rect x="577.0" y="248.7" width="1" height="25.9" fill="#ef5350"/><rect x="578.0" y="254.7" width="1" height="29.4" fill="#ef5350"/><rect x="579.0" y="272.0" width="1" height="26.1" fill="#ef5350"/><rect x="581.0" y="285.2" width="1" height="16.0" fill="#ef5350"/><rect x="582.0" y="280.5" width="1" height="44.0" fill="#26a69a"/><rect x="584.0" y="290.8" width="1" height="17.0" fill="#ef5350"/><rect x="585.0" y="296.0" width="1" height="18.4" fill="#ef5350"/><rect x="586.0" y="299.8" width="1" height="14.4" fill="#26a69a"/><rect x="588.0" y="298.0" width="1" height="12.4" fill="#26a69a"/><rect x="589.0" y="293.6" width="1" height="16.6" fill="#26a69a"/><rect x="590.0" y="277.3" width="1" height="26.2" fill="#26a69a"/><rect x="592.0" y="277.7" width="1" height="13.1" fill="#26a69a"/><rect x="593.0" y="276.5" width="1" height="19.5" fill="#26a69a"/><rect x="595.0" y="270.9" width="1" height="21.7" fill="#ef5350"/><rect x="596.0" y="283.0" width="1" height="10.3" fill="#26a69a"/><rect x="597.0" y="275.5" width="1" height="52.3" fill="#26a69a"/><rect x="599.0" y="277.6" width="1" height="17.3" fill="#ef5350"/><rect x="600.0" y="279.5" width="1" height="11.2" fill="#26a69a"/><rect x="601.0" y="277.3" width="1" height="10.2" fill="#ef5350"/><rect x="603.0" y="275.9" width="1" height="10.9" fill="#26a69a"/><rect x="604.0" y="276.0" width="1" height="6.7" fill="#26a69a"/><rect x="606.0" y="270.5" width="1" height="16.8" fill="#26a69a"/><rect x="607.0" y="273.7" width="1" height="14.2" fill="#ef5350"/><rect x="608.0" y="252.3" width="1" height="35.0" fill="#26a69a"/><rect x="610.0" y="278.9" width="1" height="14.8" fill="#ef5350"/><rect x="611.0" y="280.8" width="1" height="18.5" fill="#ef5350"/><rect x="613.0" y="281.5" width="1" height="15.1" fill="#ef5350"/><rect x="614.0" y="284.5" width="1" height="19.1" fill="#ef5350"/><rect x="615.0" y="294.6" width="1" height="13.9" fill="#ef5350"/><rect x="617.0" y="297.0" width="1" height="19.5" fill="#ef5350"/><rect x="618.0" y="300.5" width="1" height="8.2" fill="#ef5350"/><rect x="619.0" y="300.0" width="1" height="12.2" fill="#ef5350"/><rect x="621.0" y="304.0" width="1" height="11.6" fill="#ef5350"/><rect x="622.0" y="306.6" width="1" height="16.2" fill="#ef5350"/><rect x="624.0" y="306.1" width="1" height="16.5" fill="#26a69a"/><rect x="625.0" y="304.4" width="1" height="7.6" fill="#26a69a"/><rect x="626.0" y="298.0" width="1" height="11.7" fill="#26a69a"/><rect x="628.0" y="295.8" width="1" height="8.1" fill="#26a69a"/><rect x="629.0" y="290.7" width="1" height="15.0" fill="#26a69a"/><rect x="630.0" y="287.2" width="1" height="13.2" fill="#ef5350"/><rect x="632.0" y="279.7" width="1" height="19.8" fill="#26a69a"/><rect x="633.0" y="279.0" width="1" height="10.7" fill="#ef5350"/><rect x="635.0" y="281.9" width="1" height="15.3" fill="#ef5350"/><rect x="636.0" y="283.5" width="1" height="12.9" fill="#ef5350"/><rect x="637.0" y="289.8" width="1" height="10.5" fill="#ef5350"/><rect x="639.0" y="287.1" width="1" height="18.0" fill="#ef5350"/><rect x="640.0" y="290.0" width="1" height="17.0" fill="#ef5350"/><rect x="642.0" y="295.7" width="1" height="17.1" fill="#ef5350"/><rect x="643.0" y="293.1" width="1" height="18.8" fill="#26a69a"/><rect x="644.0" y="293.0" width="1" height="22.6" fill="#ef5350"/><rect x="646.0" y="297.8" width="1" height="20.6" fill="#ef5350"/><rect x="647.0" y="303.1" width="1" height="13.3" fill="#ef5350"/><rect x="648.0" y="306.2" width="1" height="20.6" fill="#ef5350"/><rect x="650.0" y="298.8" width="1" height="13.3" fill="#26a69a"/><rect x="651.0" y="304.6" width="1" height="12.1" fill="#ef5350"/><rect x="653.0" y="299.5" width="1" height="21.4" fill="#ef5350"/><rect x="654.0" y="310.6" width="1" height="13.0" fill="#ef5350"/><rect x="655.0" y="315.7" width="1" height="12.6" fill="#ef5350"/><rect x="657.0" y="314.6" width="1" height="11.7" fill="#26a69a"/><rect x="658.0" y="317.9" width="1" height="19.6" fill="#ef5350"/><rect x="659.0" y="321.9" width="1" height="17.1" fill="#ef5350"/><rect x="661.0" y="323.4" width="1" height="20.4" fill="#ef5350"/><rect x="662.0" y="335.6" width="1" height="15.1" fill="#ef5350"/><rect x="664.0" y="340.8" width="1" height="14.1" fill="#ef5350"/><rect x="665.0" y="343.8" width="1" height="12.0" fill="#ef5350"/><rect x="666.0" y="349.3" width="1" height="12.4" fill="#ef5350"/><rect x="668.0" y="350.0" width="1" height="15.0" fill="#ef5350"/><rect x="669.0" y="357.2" width="1" height="16.2" fill="#ef5350"/><rect x="671.0" y="363.2" width="1" height="11.4" fill="#26a69a"/><rect x="672.0" y="363.3" width="1" height="17.5" fill="#ef5350"/><rect x="673.0" y="373.8" width="1" height="7.2" fill="#ef5350"/><rect x="675.0" y="373.8" width="1" height="18.8" fill="#ef5350"/><rect x="676.0" y="382.2" width="1" height="16.7" fill="#ef5350"/><rect x="677.0" y="390.7" width="1" height="17.3" fill="#ef5350"/><rect x="679.0" y="385.0" width="1" height="28.5" fill="#ef5350"/><rect x="680.0" y="412.0" width="1" height="14.0" fill="#26a69a"/></g>
<line x1="13" y1="416.5" x2="702" y2="416.5" stroke="#26a69a" stroke-width="1" stroke-dasharray="1 2" shape-rendering="crispEdges"/>
<polyline points="10.5,645.0 11.9,646.2 13.3,648.1 14.7,650.7 16.1,653.8 17.5,656.8 18.9,659.3 20.3,660.7 21.7,661.3 23.1,661.4 24.5,661.2 25.9,660.9 27.3,660.4 28.7,660.1 30.1,659.7 31.5,659.2 32.9,658.5 34.3,657.6 35.7,656.6 37.1,655.6 38.5,654.6 39.9,654.0 41.3,654.1 42.7,655.7 44.1,658.4 45.5,661.8 46.9,665.3 48.3,668.5 49.7,671.1 51.1,673.0 52.5,674.3 53.9,675.2 55.3,675.9 56.7,676.3 58.1,676.6 59.5,676.3 60.9,675.2 62.3,672.9 63.7,669.5 65.1,665.4 66.5,660.8 67.9,656.1 69.3,651.3 70.7,646.8 72.1,642.6 73.5,638.7 74.9,635.2 76.3,632.0 77.7,629.4 79.1,627.3 80.5,625.9 81.9,625.3 83.3,625.8 84.7,627.0 86.1,628.6 87.5,630.5 88.9,632.7 90.3,635.1 91.7,637.8 93.1,640.8 94.5,644.1 95.9,647.5 97.3,651.0 98.7,654.5 100.1,658.0 101.5,661.4 102.9,664.3 104.3,666.6 105.7,668.3 107.1,669.2 108.5,669.2 109.9,668.3 111.3,666.3 112.7,663.4 114.1,659.3 115.5,654.5 116.9,649.0 118.3,642.9 119.7,636.0 121.1,628.6 122.5,621.0 123.9,613.6 125.3,606.4 126.7,599.4 128.1,592.7 129.5,586.7 130.9,581.5 132.3,577.2 133.7,574.1 135.1,572.4 136.5,572.4 137.9,574.2 139.3,577.4 140.7,581.8 142.1,586.9 143.5,592.8 144.9,599.3 146.3,606.3 147.7,613.6 149.1,620.8 150.5,627.5 151.9,633.4 153.3,637.8 154.7,640.8 156.1,642.6 157.5,643.3 158.9,643.5 160.3,643.2 161.7,643.0 163.1,642.8 164.5,642.4 165.9,641.3 167.3,639.2 168.7,636.6 170.1,633.9 171.5,631.7 172.9,630.2 174.3,629.6 175.7,629.5 177.1,629.7 178.5,629.6 179.9,629.2 181.3,628.8 182.7,628.8 184.1,629.7 185.5,631.6 186.9,634.3 188.3,637.5 189.7,640.9 191.1,644.5 192.5,648.0 193.9,651.3 195.3,654.2 196.7,656.5 198.1,658.3 199.5,659.7 200.9,660.8 202.3,661.5 203.7,661.8 205.1,661.5 206.5,660.5 207.9,658.8 209.3,656.5 210.7,653.7 212.1,650.7 213.5,647.6 214.9,644.7 216.3,641.8 217.7,639.0 219.1,636.0 220.5,632.9 221.9,629.7 223.3,626.7 224.7,624.4 226.1,623.1 227.5,622.7 228.9,622.8 230.3,623.3 231.7,624.1 233.1,625.2 234.5,626.8 235.9,629.0 237.3,632.2 238.7,636.0 240.1,640.0 241.5,643.7 242.9,646.9 244.3,649.6 245.7,651.7 247.1,653.2 248.5,654.0 249.9,654.3 251.3,654.1 252.7,653.4 254.1,652.3 255.5,650.7 256.9,648.4 258.3,645.2 259.7,641.1 261.1,636.2 262.5,631.1 263.9,626.2 265.3,621.7 266.7,617.7 268.1,614.0 269.5,610.6 270.9,607.9 272.3,605.8 273.7,604.3 275.1,603.3 276.5,602.8 277.9,602.9 279.3,603.6 280.7,604.6 282.1,605.8 283.5,607.1 284.9,608.7 286.3,610.8 287.7,613.5 289.1,616.7 290.5,620.4 291.9,624.5 293.3,629.2 294.7,634.2 296.1,639.4 297.5,644.5 298.9,649.5 300.3,654.4 301.7,658.8 303.1,662.4 304.5,664.7 305.9,665.7 307.3,665.5 308.7,664.4 310.1,662.4 311.5,659.8 312.9,656.7 314.3,653.4 315.7,650.4 317.1,647.7 318.5,645.5 319.9,643.7 321.3,642.1 322.7,640.8 324.1,640.0 325.5,639.8 326.9,640.4 328.3,641.4 329.7,642.9 331.1,644.4 332.5,645.6 333.9,646.1 335.3,645.5 336.7,643.6 338.1,639.9 339.5,635.0 340.9,629.4 342.3,623.5 343.7,617.5 345.1,611.6 346.5,605.8 347.9,600.3 349.3,594.8 350.7,589.6 352.1,585.1 353.5,581.7 354.9,580.0 356.3,579.6 357.7,580.4 359.1,581.8 360.5,583.7 361.9,585.8 363.3,588.2 364.7,590.7 366.1,593.4 367.5,596.2 368.9,599.1 370.3,601.7 371.7,603.5 373.1,603.6 374.5,602.1 375.9,599.7 377.3,597.3 378.7,596.2 380.1,596.8 381.5,598.3 382.9,600.2 384.3,602.1 385.7,603.9 387.1,605.7 388.5,607.7 389.9,609.7 391.3,612.1 392.7,615.0 394.1,618.7 395.5,622.6 396.9,626.2 398.3,628.7 399.7,630.5 401.1,632.0 402.5,633.5 403.9,635.1 405.3,636.9 406.7,638.7 408.1,640.6 409.5,642.5 410.9,644.6 412.3,646.5 413.7,648.2 415.1,649.5 416.5,650.5 417.9,651.1 419.3,651.0 420.7,650.2 422.1,648.6 423.5,646.5 424.9,644.1 426.3,641.4 427.7,638.8 429.1,636.3 430.5,634.1 431.9,632.1 433.3,630.5 434.7,629.6 436.1,629.2 437.5,629.3 438.9,630.1 440.3,631.5 441.7,633.4 443.1,635.1 444.5,636.6 445.9,638.3 447.3,640.4 448.7,642.6 450.1,644.3 451.5,645.1 452.9,645.1 454.3,644.2 455.7,643.0 457.1,641.6 458.5,640.2 459.9,639.0 461.3,638.4 462.7,638.6 464.1,639.1 465.5,639.5 466.9,639.4 468.3,639.5 469.7,640.5 471.1,642.8 472.5,646.0 473.9,649.6 475.3,653.2 476.7,656.5 478.1,659.2 479.5,661.2 480.9,662.8 482.3,664.3 483.7,665.9 485.1,667.6 486.5,669.6 487.9,671.2 489.3,672.2 490.7,672.2 492.1,671.5 493.5,670.5 494.9,669.6 496.3,668.8 497.7,668.0 499.1,667.0 500.5,665.5 501.9,663.5 503.3,660.8 504.7,657.3 506.1,652.9 507.5,648.0 508.9,642.7 510.3,637.2 511.7,632.0 513.1,627.4 514.5,623.9 515.9,621.3 517.3,619.9 518.7,619.5 520.1,620.3 521.5,622.3 522.9,625.3 524.3,628.9 525.7,632.8 527.1,636.7 528.5,640.9 529.9,645.6 531.3,651.0 532.7,656.8 534.1,662.7 535.5,668.4 536.9,673.6 538.3,677.8 539.7,680.4 541.1,682.0 542.5,682.8 543.9,683.5 545.3,684.0 546.7,684.2 548.1,684.1 549.5,683.6 550.9,682.8 552.3,681.4 553.7,679.7 555.1,677.8 556.5,676.1 557.9,674.7 559.3,673.6 560.7,672.3 562.1,670.7 563.5,668.6 564.9,665.9 566.3,662.8 567.7,659.5 569.1,656.0 570.5,652.6 571.9,649.4 573.3,646.7 574.7,644.5 576.1,643.2 577.5,642.8 578.9,643.3 580.3,644.9 581.7,647.4 583.1,650.8 584.5,655.1 585.9,659.9 587.3,664.6 588.7,668.8 590.1,672.6 591.5,675.9 592.9,678.7 594.3,680.7 595.7,681.8 597.1,681.6 598.5,680.3 599.9,677.8 601.3,674.7 602.7,671.1 604.1,667.4 605.5,663.7 606.9,660.2 608.3,657.2 609.7,654.7 611.1,652.8 612.5,651.4 613.9,650.4 615.3,649.9 616.7,650.0 618.1,650.6 619.5,651.7 620.9,653.3 622.3,655.2 623.7,657.2 625.1,658.9 626.5,660.0 627.9,660.2 629.3,659.7 630.7,658.9 632.1,657.8 633.5,656.5 634.9,655.4 636.3,654.5 637.7,653.7 639.1,652.8 640.5,651.7 641.9,650.5 643.3,649.3 644.7,648.5 646.1,648.5 647.5,649.4 648.9,651.2 650.3,653.3 651.7,655.2 653.1,656.7 654.5,658.0 655.9,659.2 657.3,660.3 658.7,661.6 660.1,663.3 661.5,665.6 662.9,668.3 664.3,671.2 665.7,674.3 667.1,677.5 668.5,680.8 669.9,684.0 671.3,687.3 672.7,690.7 674.1,694.2 675.5,697.8 676.9,701.4 678.3,704.5 679.7,706.8" fill="none" stroke="#fdd835" stroke-width="1" stroke-linejoin="round"/>
<polyline points="10.5,644.1 13.2,657.8 15.4,682.3 16.5,679.6 18.6,694.6 20.8,655.1 21.9,663.2 23.6,644.1 25.7,620.1 27.4,630.5 29.0,631.9 31.2,660.5 32.3,674.2 33.6,663.2 35.6,664.6 37.7,676.9 39.9,637.3 41.8,652.3 43.7,671.4 45.9,689.2 48.1,691.9 49.7,683.7 50.3,691.9 52.7,671.4 55.5,676.9 57.4,681.0 59.6,655.1 62.3,618.2 65.0,616.9 67.2,625.0 69.4,620.9 71.8,640.0 74.6,627.8 76.5,616.9 78.7,601.8 80.9,619.6 82.8,636.0 84.7,631.9 86.9,645.5 89.0,655.1 90.9,672.8 92.9,678.2 95.0,661.9 97.2,676.9 99.7,682.3 101.9,668.7 103.8,675.5 106.0,668.7 108.7,666.0 110.0,671.4 112.8,625.0 115.5,603.2 117.7,588.2 119.6,596.4 121.8,570.5 124.0,567.7 125.6,554.1 127.8,552.7 130.0,559.6 131.9,558.2 133.2,578.7 134.6,573.2 136.0,571.8 137.9,627.8 139.2,636.0 140.9,659.1 142.2,644.1 144.2,649.6 146.1,637.3 148.2,640.0 150.4,668.7 152.3,649.6 154.2,620.9 155.9,637.3 157.8,623.7 160.0,637.3 161.3,655.1 163.3,646.9 164.1,655.1 166.0,622.3 167.9,618.2 169.8,601.8 171.4,614.1 173.6,625.0 175.0,637.3 176.9,630.5 179.1,646.9 181.0,638.7 182.9,631.9 185.1,641.4 187.3,652.3 189.2,663.2 191.4,674.2 193.8,683.7 196.0,697.3 197.6,666.0 199.3,648.2 201.5,638.7 203.6,652.3 205.5,642.8 207.5,629.1 209.6,631.9 211.5,644.1 213.2,630.5 215.1,644.1 217.3,608.7 219.2,597.8 221.1,581.4 222.7,603.2 224.6,620.9 225.0,618.2 227.7,627.8 229.9,644.1 231.0,663.2 232.6,636.0 234.5,649.6 236.5,636.0 238.1,634.6 240.0,651.0 241.9,660.5 244.1,671.4 246.3,682.9 248.2,666.0 250.1,640.0 252.3,637.3 254.5,635.4 256.4,616.9 257.2,603.2 259.1,599.1 259.9,581.4 261.8,601.8 263.2,588.2 265.4,604.6 266.7,616.9 268.7,599.1 270.8,583.6 272.7,611.4 274.9,608.7 276.8,610.0 279.6,594.5 282.3,604.6 283.7,638.7 285.6,633.2 287.2,630.5 289.1,652.3 291.8,657.8 293.8,668.7 295.9,681.0 298.1,675.5 300.0,679.6 302.2,671.4 304.1,678.2 306.3,638.7 308.2,627.8 310.1,616.9 311.8,614.1 313.7,622.3 315.0,619.6 317.2,642.8 319.1,659.1 321.0,673.6 323.2,648.2 325.4,636.0 327.3,649.6 329.2,642.8 332.0,653.7 334.1,636.0 336.3,619.6 338.2,588.2 340.1,581.4 341.8,564.5 343.7,565.6 345.6,581.4 347.8,567.7 350.5,560.4 351.9,571.8 353.2,566.4 354.6,597.8 356.0,622.3 358.2,605.9 360.1,595.0 362.0,593.7 364.2,605.9 366.1,620.9 368.2,603.2 370.2,593.7 371.5,611.4 373.7,582.7 375.9,550.0 377.0,562.3 377.8,558.2 379.2,592.3 380.5,626.4 382.7,630.5 384.6,627.8 387.9,638.1 390.1,627.8 392.0,619.6 394.2,634.6 396.4,636.0 399.1,614.1 401.0,637.3 402.4,644.1 403.7,668.7 405.1,670.1 407.3,656.4 410.0,644.1 412.7,667.3 415.5,638.7 418.2,649.6 420.1,627.8 422.0,627.8 423.6,618.2 425.5,630.5 427.5,616.9 429.6,619.6 431.5,627.8 433.2,637.3 435.1,629.1 437.3,642.8 439.2,652.3 441.1,668.7 443.3,636.0 445.0,626.9 447.4,653.6 449.2,675.9 450.9,647.7 453.3,629.9 455.4,619.5 457.5,621.0 458.9,616.6 460.4,643.2 462.8,668.5 464.9,647.7 466.9,628.4 468.7,644.7 471.1,665.5 473.2,687.7 475.5,684.8 477.6,671.4 479.7,655.1 481.5,653.6 483.6,665.5 485.9,680.3 487.4,683.3 489.5,674.4 491.0,659.6 493.0,667.0 495.4,664.0 497.8,662.5 499.9,644.7 502.2,640.3 504.3,621.0 506.1,598.8 507.9,597.3 509.1,607.7 510.2,592.8 512.0,587.8 513.8,603.2 515.6,635.8 517.1,637.3 519.1,653.6 521.5,665.5 522.7,661.0 524.5,686.2 526.6,683.3 528.0,665.5 530.4,677.3 532.5,695.1 534.3,710.0 536.3,705.5 538.4,683.3 540.5,668.5 542.3,677.3 544.3,661.0 545.8,671.4 547.9,662.5 549.7,674.4 551.8,689.2 553.8,672.9 555.6,662.5 557.1,671.4 559.2,665.5 560.7,674.4 562.1,687.7 563.0,612.7 564.5,641.8 566.6,624.0 569.0,607.7 571.0,624.0 572.5,632.9 574.0,629.9 575.5,644.7 577.6,659.6 579.0,674.4 580.8,701.1 582.3,704.0 584.4,696.6 586.5,698.1 588.2,701.1 589.7,653.6 591.2,655.1 592.7,668.5 594.8,675.9 596.8,658.1 598.6,662.5 600.1,646.2 601.6,658.1 603.7,638.8 605.1,641.8 607.5,629.9 609.6,644.7 611.1,653.6 613.1,658.1 615.2,669.9 617.0,652.1 619.1,672.9 620.6,669.9 622.3,680.3 624.4,667.0 626.5,653.6 628.3,640.3 630.3,630.5 632.4,632.9 634.8,638.8 636.3,653.6 638.7,667.0 640.1,644.7 641.6,653.6 643.1,643.2 644.3,659.6 645.8,649.2 647.6,672.9 649.6,668.5 652.0,662.5 654.7,647.7 656.4,675.9 657.9,667.0 660.0,680.3 662.1,686.2 663.9,710.0 665.3,696.6 667.4,699.6 669.5,718.9 671.3,720.3 672.8,698.1 674.2,715.9 676.3,711.5 677.8,718.9 680.2,727.8" fill="none" stroke="#7e57c2" stroke-width="1" stroke-linejoin="round"/>
<g shape-rendering="crispEdges" fill="#e0e3eb">
<rect x="761" y="28" width="1" height="745"/>
<rect x="11" y="527" width="822" height="1"/>
<rect x="11" y="746" width="822" height="1"/>
</g>
<rect x="10" y="27" width="823.3" height="746.5" fill="none" stroke="#f1f3f4" stroke-width="2"/>
<g fill="#131722" transform="translate(12.3,796)"><path d="M0,0H11.7V14.6H5.5V5.7H0Z"/><circle cx="16.5" cy="2.8" r="2.9"/><path d="M20.7,0H29.5L24.7,14.6H16.7Z"/></g>
</svg>
<div id="aud"></div><div id="sym"></div><div id="px"></div>
<div class="t" style="left:10.00px;top:8.20px;font-size:12.4px;line-height:14.4px;letter-spacing:0.145px;color:#131722;">PoundSterlingLive created with TradingView.com, Feb 09, 2026 10:33 UTC</div>
<div class="t" style="left:19.10px;top:35.74px;font-size:12px;line-height:14px;letter-spacing:0.107px;color:#131722;">British Pound / Australian Dollar · 1D · OANDA</div>
<div class="t" style="left:281.00px;top:35.74px;font-size:12px;line-height:14px;letter-spacing:0.000px;color:#131722;">O</div>
<div class="t" style="left:290.20px;top:35.74px;font-size:12px;line-height:14px;letter-spacing:0.370px;color:#26a69a;">1.93696</div>
<div class="t" style="left:343.30px;top:35.74px;font-size:12px;line-height:14px;letter-spacing:0.000px;color:#131722;">H</div>
<div class="t" style="left:352.50px;top:35.74px;font-size:12px;line-height:14px;letter-spacing:0.387px;color:#26a69a;">1.94034</div>
<div class="t" style="left:405.60px;top:35.74px;font-size:12px;line-height:14px;letter-spacing:0.000px;color:#131722;">L</div>
<div class="t" style="left:412.70px;top:35.74px;font-size:12px;line-height:14px;letter-spacing:-0.131px;color:#26a69a;">1.93110</div>
<div class="t" style="left:461.40px;top:35.74px;font-size:12px;line-height:14px;letter-spacing:0.000px;color:#131722;">C</div>
<div class="t" style="left:470.60px;top:35.74px;font-size:12px;line-height:14px;letter-spacing:0.004px;color:#26a69a;">1.93746</div>
<div class="t" style="left:522.00px;top:35.74px;font-size:12px;line-height:14px;letter-spacing:0.328px;color:#26a69a;">−0.00329 (−0.17%)</div>
<div class="t" style="left:19.10px;top:52.84px;font-size:12px;line-height:14px;letter-spacing:0.160px;color:#131722;">EMA (9, close)</div>
<div class="t" style="left:107.60px;top:52.84px;font-size:12px;line-height:14px;letter-spacing:0.420px;color:#2962ff;">1.95409</div>
<div class="t" style="left:18.60px;top:536.94px;font-size:12px;line-height:14px;letter-spacing:-0.012px;color:#131722;">RSI (14, close)</div>
<div class="t" style="left:106.50px;top:536.94px;font-size:12px;line-height:14px;letter-spacing:0.417px;color:#7e57c2;">24.09</div>
<div class="t" style="left:145.80px;top:536.94px;font-size:12px;line-height:14px;letter-spacing:0.392px;color:#fdd835;">29.64</div>
<div class="t" style="left:770.80px;top:91.84px;font-size:12px;line-height:14px;letter-spacing:0.670px;color:#131722;">2.15000</div>
<div class="t" style="left:770.80px;top:166.84px;font-size:12px;line-height:14px;letter-spacing:0.670px;color:#131722;">2.10000</div>
<div class="t" style="left:770.80px;top:240.84px;font-size:12px;line-height:14px;letter-spacing:0.670px;color:#131722;">2.05000</div>
<div class="t" style="left:770.80px;top:315.84px;font-size:12px;line-height:14px;letter-spacing:0.670px;color:#131722;">2.00000</div>
<div class="t" style="left:770.80px;top:390.84px;font-size:12px;line-height:14px;letter-spacing:0.670px;color:#131722;">1.95000</div>
<div class="t" style="left:770.80px;top:464.84px;font-size:12px;line-height:14px;letter-spacing:0.670px;color:#131722;">1.90000</div>
<div class="t" style="left:770.60px;top:541.74px;font-size:12px;line-height:14px;letter-spacing:0.717px;color:#131722;">80.00</div>
<div class="t" style="left:770.60px;top:573.74px;font-size:12px;line-height:14px;letter-spacing:0.717px;color:#131722;">70.00</div>
<div class="t" style="left:770.60px;top:605.74px;font-size:12px;line-height:14px;letter-spacing:0.717px;color:#131722;">60.00</div>
<div class="t" style="left:770.60px;top:637.74px;font-size:12px;line-height:14px;letter-spacing:0.717px;color:#131722;">50.00</div>
<div class="t" style="left:770.60px;top:669.74px;font-size:12px;line-height:14px;letter-spacing:0.717px;color:#131722;">40.00</div>
<div class="t" style="left:770.60px;top:701.74px;font-size:12px;line-height:14px;letter-spacing:0.717px;color:#131722;">30.00</div>
<div class="t" style="left:770.60px;top:733.74px;font-size:12px;line-height:14px;letter-spacing:0.717px;color:#131722;">20.00</div>
<div class="t" style="left:30.44px;top:753.94px;font-size:12px;line-height:14px;letter-spacing:0.227px;color:#131722;">May</div>
<div class="t" style="left:93.98px;top:753.94px;font-size:12px;line-height:14px;letter-spacing:0.153px;color:#131722;">Jul</div>
<div class="t" style="left:153.21px;top:753.94px;font-size:12px;line-height:14px;letter-spacing:0.214px;color:#131722;">Sep</div>
<div class="t" style="left:214.52px;top:753.94px;font-size:12px;line-height:14px;letter-spacing:0.213px;color:#131722;">Nov</div>
<div class="t" style="left:268.30px;top:753.94px;font-size:12px;line-height:14px;letter-spacing:1.501px;color:#131722;font-weight:bold;">2025</div>
<div class="t" style="left:331.66px;top:753.94px;font-size:12px;line-height:14px;letter-spacing:0.207px;color:#131722;">Mar</div>
<div class="t" style="left:390.74px;top:753.94px;font-size:12px;line-height:14px;letter-spacing:0.227px;color:#131722;">May</div>
<div class="t" style="left:454.18px;top:753.94px;font-size:12px;line-height:14px;letter-spacing:0.153px;color:#131722;">Jul</div>
<div class="t" style="left:512.51px;top:753.94px;font-size:12px;line-height:14px;letter-spacing:0.214px;color:#131722;">Sep</div>
<div class="t" style="left:574.72px;top:753.94px;font-size:12px;line-height:14px;letter-spacing:0.213px;color:#131722;">Nov</div>
<div class="t" style="left:628.70px;top:753.94px;font-size:12px;line-height:14px;letter-spacing:1.501px;color:#131722;font-weight:bold;">2026</div>
<div class="t" style="left:690.66px;top:753.94px;font-size:12px;line-height:14px;letter-spacing:0.207px;color:#131722;">Mar</div>
<div class="t" style="left:774.00px;top:36.44px;font-size:12px;line-height:14px;letter-spacing:-0.068px;color:#131722;">AUD</div>
<div class="t" style="left:708.00px;top:409.64px;font-size:12px;line-height:14px;letter-spacing:-0.258px;color:#fff;">GBPAUD</div>
<div class="t" style="left:771.40px;top:409.64px;font-size:12px;line-height:14px;letter-spacing:0.587px;color:#fff;">1.93746</div>
<div class="t" style="left:771.40px;top:424.04px;font-size:12px;line-height:14px;letter-spacing:0.583px;color:#fff;opacity:0.8;">11:26:17</div>
<div class="t" style="left:49.30px;top:792.42px;font-size:20.3px;line-height:22.3px;letter-spacing:0.109px;color:#131722;font-weight:bold;">TradingView</div>
</body></html>
